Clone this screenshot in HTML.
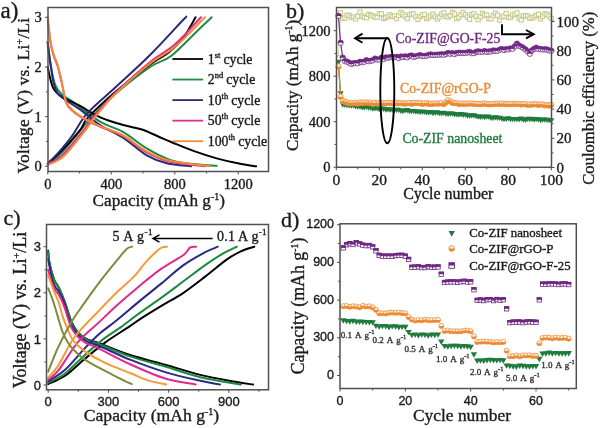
<!DOCTYPE html>
<html><head><meta charset="utf-8"><style>
html,body{margin:0;padding:0;background:#fff;width:600px;height:428px;overflow:hidden}
svg{display:block;will-change:transform}
</style></head><body>
<svg width="600" height="428" viewBox="0 0 600 428">
<rect width="600" height="428" fill="#fff"/>
<path d="M47.80,164.31 C50.18,162.33 56.80,157.86 62.09,152.39 C67.38,146.93 74.52,137.49 79.55,131.53 C84.58,125.57 86.35,122.84 92.25,116.63 C98.15,110.42 105.32,102.56 114.95,94.28 C124.58,86.00 140.70,73.33 150.03,66.96 C159.37,60.59 162.66,62.49 170.99,56.03 C179.32,49.58 193.27,34.67 200.04,28.22 C206.81,21.76 209.70,19.11 211.63,17.29" fill="none" stroke="#1f8a46" stroke-width="2.0" stroke-linejoin="round" stroke-linecap="round"/>
<path d="M47.80,43.12 C48.28,46.68 49.47,57.61 50.66,64.48 C51.85,71.35 53.04,79.29 54.94,84.34 C56.85,89.39 59.31,92.04 62.09,94.78 C64.87,97.51 65.29,96.27 71.61,100.74 C77.94,105.21 91.40,116.38 100.03,121.60 C108.65,126.81 115.59,127.56 123.36,132.03 C131.14,136.50 138.92,143.78 146.70,148.42 C154.48,153.05 162.71,157.28 170.04,159.84 C177.37,162.41 182.90,162.82 190.68,163.82 C198.45,164.81 212.37,165.47 216.71,165.80" fill="none" stroke="#1f8a46" stroke-width="2.0" stroke-linejoin="round" stroke-linecap="round"/>
<path d="M47.80,163.82 C50.00,161.75 55.61,157.03 60.98,151.40 C66.35,145.77 75.53,135.67 80.03,130.04 C84.52,124.41 82.14,123.91 87.96,117.62 C93.78,111.33 104.61,101.15 114.95,92.29 C125.30,83.43 141.07,71.10 150.03,64.48 C159.00,57.85 163.32,56.86 168.77,52.56 C174.22,48.25 178.27,44.53 182.74,38.65 C187.21,32.77 193.45,20.85 195.60,17.29" fill="none" stroke="#000000" stroke-width="2.0" stroke-linejoin="round" stroke-linecap="round"/>
<path d="M47.80,66.96 C48.04,68.20 48.30,70.85 49.23,74.41 C50.15,77.97 51.27,84.59 53.36,88.32 C55.45,92.04 57.56,93.95 61.77,96.76 C65.98,99.58 72.06,101.73 78.60,105.21 C85.13,108.68 93.52,114.31 100.98,117.62 C108.44,120.93 116.54,123.09 123.36,125.07 C130.19,127.06 136.12,127.64 141.94,129.54 C147.76,131.45 153.24,134.35 158.29,136.50 C163.34,138.65 166.41,140.06 172.26,142.46 C178.11,144.86 185.97,148.25 193.37,150.90 C200.78,153.55 208.93,156.20 216.71,158.35 C224.49,160.51 233.48,162.49 240.05,163.82 C246.61,165.14 253.41,165.89 256.08,166.30" fill="none" stroke="#000000" stroke-width="2.0" stroke-linejoin="round" stroke-linecap="round"/>
<path d="M47.80,163.32 C49.39,161.75 53.36,158.35 57.32,153.88 C61.29,149.41 66.66,143.20 71.61,136.50 C76.56,129.79 79.79,121.76 87.01,113.65 C94.23,105.54 104.45,97.59 114.95,87.82 C125.46,78.05 138.74,66.30 150.03,55.04 C161.33,43.78 176.78,26.56 182.74,20.27 C188.69,13.98 185.25,17.79 185.75,17.29" fill="none" stroke="#2a2a72" stroke-width="2.0" stroke-linejoin="round" stroke-linecap="round"/>
<path d="M47.80,44.61 C48.20,47.51 49.26,55.78 50.18,61.99 C51.11,68.20 52.17,76.73 53.36,81.86 C54.55,86.99 55.61,89.97 57.32,92.79 C59.04,95.60 59.97,96.02 63.67,98.75 C67.38,101.48 73.49,104.79 79.55,109.18 C85.61,113.57 92.73,120.27 100.03,125.07 C107.33,129.88 115.59,132.94 123.36,137.99 C131.14,143.04 139.45,151.15 146.70,155.37 C153.95,159.59 159.48,161.50 166.86,163.32 C174.24,165.14 186.97,165.80 190.99,166.30" fill="none" stroke="#2a2a72" stroke-width="2.0" stroke-linejoin="round" stroke-linecap="round"/>
<path d="M47.80,164.31 C50.18,162.82 56.27,160.84 62.09,155.37 C67.91,149.91 77.43,137.99 82.72,131.53 C88.02,125.07 88.47,123.00 93.84,116.63 C99.21,110.26 105.59,102.39 114.95,93.29 C124.32,84.18 140.06,70.11 150.03,61.99 C160.01,53.88 166.31,52.06 174.80,44.61 C183.29,37.16 196.63,21.84 200.99,17.29" fill="none" stroke="#dc3282" stroke-width="2.0" stroke-linejoin="round" stroke-linecap="round"/>
<path d="M47.80,19.77 C48.28,23.75 49.60,37.41 50.66,43.62 C51.72,49.82 52.99,53.30 54.15,57.03 C55.31,60.75 56.37,61.66 57.64,65.97 C58.91,70.27 60.37,76.73 61.77,82.85 C63.17,88.98 64.18,98.00 66.06,102.72 C67.93,107.44 69.55,108.19 73.04,111.17 C76.53,114.15 82.51,118.04 87.01,120.60 C91.51,123.17 93.97,123.91 100.03,126.56 C106.09,129.21 115.59,132.19 123.36,136.50 C131.14,140.80 138.92,148.17 146.70,152.39 C154.48,156.61 160.33,159.51 170.04,161.83 C179.75,164.15 199.14,165.55 204.96,166.30" fill="none" stroke="#dc3282" stroke-width="2.0" stroke-linejoin="round" stroke-linecap="round"/>
<path d="M47.80,164.81 C50.45,163.40 57.59,161.91 63.67,156.37 C69.76,150.82 79.02,138.15 84.31,131.53 C89.60,124.91 90.32,122.84 95.42,116.63 C100.53,110.42 105.85,103.14 114.95,94.28 C124.05,85.42 140.06,71.35 150.03,63.48 C160.01,55.62 165.65,54.79 174.80,47.09 C183.95,39.39 199.94,22.26 204.96,17.29" fill="none" stroke="#f28a38" stroke-width="2.0" stroke-linejoin="round" stroke-linecap="round"/>
<path d="M47.80,17.29 C48.28,21.43 49.60,35.67 50.66,42.12 C51.72,48.58 52.99,52.22 54.15,56.03 C55.31,59.84 56.37,60.67 57.64,64.97 C58.91,69.28 60.37,75.74 61.77,81.86 C63.17,87.99 64.18,96.93 66.06,101.73 C67.93,106.53 69.55,107.61 73.04,110.67 C76.53,113.73 82.51,117.54 87.01,120.11 C91.51,122.67 93.97,123.50 100.03,126.07 C106.09,128.63 115.59,131.28 123.36,135.50 C131.14,139.73 138.92,147.18 146.70,151.40 C154.48,155.62 159.53,158.35 170.04,160.84 C180.54,163.32 203.11,165.39 209.73,166.30" fill="none" stroke="#f28a38" stroke-width="2.0" stroke-linejoin="round" stroke-linecap="round"/>
<rect x="48" y="7.5" width="220.5" height="164.0" fill="none" stroke="#505050" stroke-width="1.5"/>
<line x1="45.00" y1="166.30" x2="48.00" y2="166.30" stroke="#505050" stroke-width="1.0" />
<line x1="46.00" y1="141.47" x2="48.00" y2="141.47" stroke="#505050" stroke-width="1.0" />
<line x1="45.00" y1="116.63" x2="48.00" y2="116.63" stroke="#505050" stroke-width="1.0" />
<line x1="46.00" y1="91.80" x2="48.00" y2="91.80" stroke="#505050" stroke-width="1.0" />
<line x1="45.00" y1="66.96" x2="48.00" y2="66.96" stroke="#505050" stroke-width="1.0" />
<line x1="46.00" y1="42.12" x2="48.00" y2="42.12" stroke="#505050" stroke-width="1.0" />
<line x1="45.00" y1="17.29" x2="48.00" y2="17.29" stroke="#505050" stroke-width="1.0" />
<line x1="47.80" y1="171.50" x2="47.80" y2="174.50" stroke="#505050" stroke-width="1.0" />
<line x1="79.55" y1="171.50" x2="79.55" y2="173.50" stroke="#505050" stroke-width="1.0" />
<line x1="111.30" y1="171.50" x2="111.30" y2="174.50" stroke="#505050" stroke-width="1.0" />
<line x1="143.05" y1="171.50" x2="143.05" y2="173.50" stroke="#505050" stroke-width="1.0" />
<line x1="174.80" y1="171.50" x2="174.80" y2="174.50" stroke="#505050" stroke-width="1.0" />
<line x1="206.55" y1="171.50" x2="206.55" y2="173.50" stroke="#505050" stroke-width="1.0" />
<line x1="238.30" y1="171.50" x2="238.30" y2="174.50" stroke="#505050" stroke-width="1.0" />
<text x="41.80" y="171.30" font-family='"Liberation Serif", serif' font-size="14.5" text-anchor="end" fill="#1a1a1a" stroke="#1a1a1a" stroke-width="0.35" >0</text>
<text x="41.80" y="121.63" font-family='"Liberation Serif", serif' font-size="14.5" text-anchor="end" fill="#1a1a1a" stroke="#1a1a1a" stroke-width="0.35" >1</text>
<text x="41.80" y="71.96" font-family='"Liberation Serif", serif' font-size="14.5" text-anchor="end" fill="#1a1a1a" stroke="#1a1a1a" stroke-width="0.35" >2</text>
<text x="41.80" y="22.29" font-family='"Liberation Serif", serif' font-size="14.5" text-anchor="end" fill="#1a1a1a" stroke="#1a1a1a" stroke-width="0.35" >3</text>
<text x="47.80" y="189.00" font-family='"Liberation Serif", serif' font-size="14.5" text-anchor="middle" fill="#1a1a1a" stroke="#1a1a1a" stroke-width="0.35" >0</text>
<text x="111.30" y="189.00" font-family='"Liberation Serif", serif' font-size="14.5" text-anchor="middle" fill="#1a1a1a" stroke="#1a1a1a" stroke-width="0.35" >400</text>
<text x="174.80" y="189.00" font-family='"Liberation Serif", serif' font-size="14.5" text-anchor="middle" fill="#1a1a1a" stroke="#1a1a1a" stroke-width="0.35" >800</text>
<text x="238.30" y="189.00" font-family='"Liberation Serif", serif' font-size="14.5" text-anchor="middle" fill="#1a1a1a" stroke="#1a1a1a" stroke-width="0.35" >1200</text>
<text x="0.50" y="17.50" font-family='"Liberation Serif", serif' font-size="23" text-anchor="start" fill="#1a1a1a" stroke="#1a1a1a" stroke-width="0.35" >a)</text>
<text x="158.80" y="206.00" font-family='"Liberation Serif", serif' font-size="17.2" text-anchor="middle" fill="#1a1a1a" stroke="#1a1a1a" stroke-width="0.35" >Capacity (mAh g<tspan dy="-6" font-size="10">-1</tspan><tspan dy="6">)</tspan></text>
<text transform="translate(29,95.5) rotate(-90)" font-family='"Liberation Serif", serif' font-size="17.3" letter-spacing="0.25" text-anchor="middle" fill="#1a1a1a" stroke="#1a1a1a" stroke-width="0.35">Voltage (V) vs. Li<tspan dy="-6" font-size="10">+</tspan><tspan dy="6">/Li</tspan></text>
<line x1="172.40" y1="59.00" x2="203.00" y2="59.00" stroke="#000000" stroke-width="1.8" />
<text x="207.80" y="63.60" font-family='"Liberation Serif", serif' font-size="13.8" text-anchor="start" fill="#1a1a1a" stroke="#1a1a1a" stroke-width="0.35" >1<tspan dy="-6" font-size="8.5">st</tspan><tspan dy="6" dx="3">cycle</tspan></text>
<line x1="172.40" y1="79.55" x2="203.00" y2="79.55" stroke="#1f8a46" stroke-width="1.8" />
<text x="207.80" y="84.15" font-family='"Liberation Serif", serif' font-size="13.8" text-anchor="start" fill="#1a1a1a" stroke="#1a1a1a" stroke-width="0.35" >2<tspan dy="-6" font-size="8.5">nd</tspan><tspan dy="6" dx="3">cycle</tspan></text>
<line x1="172.40" y1="100.10" x2="203.00" y2="100.10" stroke="#2a2a72" stroke-width="1.8" />
<text x="207.80" y="104.70" font-family='"Liberation Serif", serif' font-size="13.8" text-anchor="start" fill="#1a1a1a" stroke="#1a1a1a" stroke-width="0.35" >10<tspan dy="-6" font-size="8.5">th</tspan><tspan dy="6" dx="3">cycle</tspan></text>
<line x1="172.40" y1="120.65" x2="203.00" y2="120.65" stroke="#dc3282" stroke-width="1.8" />
<text x="207.80" y="125.25" font-family='"Liberation Serif", serif' font-size="13.8" text-anchor="start" fill="#1a1a1a" stroke="#1a1a1a" stroke-width="0.35" >50<tspan dy="-6" font-size="8.5">th</tspan><tspan dy="6" dx="3">cycle</tspan></text>
<line x1="172.40" y1="141.20" x2="203.00" y2="141.20" stroke="#f28a38" stroke-width="1.8" />
<text x="207.80" y="145.80" font-family='"Liberation Serif", serif' font-size="13.8" text-anchor="start" fill="#1a1a1a" stroke="#1a1a1a" stroke-width="0.35" >100<tspan dy="-6" font-size="8.5">th</tspan><tspan dy="6" dx="3">cycle</tspan></text>
<polyline points="338.45,58.00 340.60,12.74 342.75,18.31 344.90,17.94 347.05,15.30 349.20,15.43 351.35,17.20 353.50,17.00 355.65,18.87 357.80,16.19 359.95,12.20 362.10,16.10 364.25,17.24 366.40,17.74 368.55,14.34 370.70,15.30 372.85,16.03 375.00,17.26 377.15,17.14 379.30,13.62 381.45,13.71 383.60,18.52 385.75,17.67 387.90,16.43 390.05,14.88 392.20,16.28 394.35,16.17 396.50,18.59 398.65,15.48 400.80,12.67 402.95,14.29 405.10,16.38 407.25,18.67 409.40,14.69 411.55,14.11 413.70,13.97 415.85,16.85 418.00,19.43 420.15,16.54 422.30,14.93 424.45,14.36 426.60,18.64 428.75,17.21 430.90,15.53 433.05,14.05 435.20,16.90 437.35,19.07 439.50,16.92 441.65,14.17 443.80,12.90 445.95,16.36 448.10,17.07 450.25,15.49 452.40,12.46 454.55,14.04 456.70,18.63 458.85,17.23 461.00,14.61 463.15,12.57 465.30,14.80 467.45,17.10 469.60,19.32 471.75,14.58 473.90,13.65 476.05,16.26 478.20,19.71 480.35,16.78 482.50,13.54 484.65,15.38 486.80,14.94 488.95,18.73 491.10,18.88 493.25,15.55 495.40,13.13 497.55,15.20 499.70,20.15 501.85,16.82 504.00,16.05 506.15,13.55 508.30,17.59 510.45,17.24 512.60,15.06 514.75,14.16 516.90,12.90 519.05,18.12 521.20,19.98 523.35,15.89 525.50,15.63 527.65,16.11 529.80,18.18 531.95,17.92 534.10,16.94 536.25,15.51 538.40,14.22 540.55,18.83 542.70,16.41 544.85,13.87 547.00,14.37 549.15,16.14 551.30,18.35" fill="none" stroke="#c6c68c" stroke-width="0.8"/>
<rect x="336.35" y="55.90" width="4.2" height="4.2" fill="#fbfbee" stroke="#c6c68c" stroke-width="1"/>
<rect x="338.50" y="10.64" width="4.2" height="4.2" fill="#fbfbee" stroke="#c6c68c" stroke-width="1"/>
<rect x="340.65" y="16.21" width="4.2" height="4.2" fill="#fbfbee" stroke="#c6c68c" stroke-width="1"/>
<rect x="342.80" y="15.84" width="4.2" height="4.2" fill="#fbfbee" stroke="#c6c68c" stroke-width="1"/>
<rect x="344.95" y="13.20" width="4.2" height="4.2" fill="#fbfbee" stroke="#c6c68c" stroke-width="1"/>
<rect x="347.10" y="13.33" width="4.2" height="4.2" fill="#fbfbee" stroke="#c6c68c" stroke-width="1"/>
<rect x="349.25" y="15.10" width="4.2" height="4.2" fill="#fbfbee" stroke="#c6c68c" stroke-width="1"/>
<rect x="351.40" y="14.90" width="4.2" height="4.2" fill="#fbfbee" stroke="#c6c68c" stroke-width="1"/>
<rect x="353.55" y="16.77" width="4.2" height="4.2" fill="#fbfbee" stroke="#c6c68c" stroke-width="1"/>
<rect x="355.70" y="14.09" width="4.2" height="4.2" fill="#fbfbee" stroke="#c6c68c" stroke-width="1"/>
<rect x="357.85" y="10.10" width="4.2" height="4.2" fill="#fbfbee" stroke="#c6c68c" stroke-width="1"/>
<rect x="360.00" y="14.00" width="4.2" height="4.2" fill="#fbfbee" stroke="#c6c68c" stroke-width="1"/>
<rect x="362.15" y="15.14" width="4.2" height="4.2" fill="#fbfbee" stroke="#c6c68c" stroke-width="1"/>
<rect x="364.30" y="15.64" width="4.2" height="4.2" fill="#fbfbee" stroke="#c6c68c" stroke-width="1"/>
<rect x="366.45" y="12.24" width="4.2" height="4.2" fill="#fbfbee" stroke="#c6c68c" stroke-width="1"/>
<rect x="368.60" y="13.20" width="4.2" height="4.2" fill="#fbfbee" stroke="#c6c68c" stroke-width="1"/>
<rect x="370.75" y="13.93" width="4.2" height="4.2" fill="#fbfbee" stroke="#c6c68c" stroke-width="1"/>
<rect x="372.90" y="15.16" width="4.2" height="4.2" fill="#fbfbee" stroke="#c6c68c" stroke-width="1"/>
<rect x="375.05" y="15.04" width="4.2" height="4.2" fill="#fbfbee" stroke="#c6c68c" stroke-width="1"/>
<rect x="377.20" y="11.52" width="4.2" height="4.2" fill="#fbfbee" stroke="#c6c68c" stroke-width="1"/>
<rect x="379.35" y="11.61" width="4.2" height="4.2" fill="#fbfbee" stroke="#c6c68c" stroke-width="1"/>
<rect x="381.50" y="16.42" width="4.2" height="4.2" fill="#fbfbee" stroke="#c6c68c" stroke-width="1"/>
<rect x="383.65" y="15.57" width="4.2" height="4.2" fill="#fbfbee" stroke="#c6c68c" stroke-width="1"/>
<rect x="385.80" y="14.33" width="4.2" height="4.2" fill="#fbfbee" stroke="#c6c68c" stroke-width="1"/>
<rect x="387.95" y="12.78" width="4.2" height="4.2" fill="#fbfbee" stroke="#c6c68c" stroke-width="1"/>
<rect x="390.10" y="14.18" width="4.2" height="4.2" fill="#fbfbee" stroke="#c6c68c" stroke-width="1"/>
<rect x="392.25" y="14.07" width="4.2" height="4.2" fill="#fbfbee" stroke="#c6c68c" stroke-width="1"/>
<rect x="394.40" y="16.49" width="4.2" height="4.2" fill="#fbfbee" stroke="#c6c68c" stroke-width="1"/>
<rect x="396.55" y="13.38" width="4.2" height="4.2" fill="#fbfbee" stroke="#c6c68c" stroke-width="1"/>
<rect x="398.70" y="10.57" width="4.2" height="4.2" fill="#fbfbee" stroke="#c6c68c" stroke-width="1"/>
<rect x="400.85" y="12.19" width="4.2" height="4.2" fill="#fbfbee" stroke="#c6c68c" stroke-width="1"/>
<rect x="403.00" y="14.28" width="4.2" height="4.2" fill="#fbfbee" stroke="#c6c68c" stroke-width="1"/>
<rect x="405.15" y="16.57" width="4.2" height="4.2" fill="#fbfbee" stroke="#c6c68c" stroke-width="1"/>
<rect x="407.30" y="12.59" width="4.2" height="4.2" fill="#fbfbee" stroke="#c6c68c" stroke-width="1"/>
<rect x="409.45" y="12.01" width="4.2" height="4.2" fill="#fbfbee" stroke="#c6c68c" stroke-width="1"/>
<rect x="411.60" y="11.87" width="4.2" height="4.2" fill="#fbfbee" stroke="#c6c68c" stroke-width="1"/>
<rect x="413.75" y="14.75" width="4.2" height="4.2" fill="#fbfbee" stroke="#c6c68c" stroke-width="1"/>
<rect x="415.90" y="17.33" width="4.2" height="4.2" fill="#fbfbee" stroke="#c6c68c" stroke-width="1"/>
<rect x="418.05" y="14.44" width="4.2" height="4.2" fill="#fbfbee" stroke="#c6c68c" stroke-width="1"/>
<rect x="420.20" y="12.83" width="4.2" height="4.2" fill="#fbfbee" stroke="#c6c68c" stroke-width="1"/>
<rect x="422.35" y="12.26" width="4.2" height="4.2" fill="#fbfbee" stroke="#c6c68c" stroke-width="1"/>
<rect x="424.50" y="16.54" width="4.2" height="4.2" fill="#fbfbee" stroke="#c6c68c" stroke-width="1"/>
<rect x="426.65" y="15.11" width="4.2" height="4.2" fill="#fbfbee" stroke="#c6c68c" stroke-width="1"/>
<rect x="428.80" y="13.43" width="4.2" height="4.2" fill="#fbfbee" stroke="#c6c68c" stroke-width="1"/>
<rect x="430.95" y="11.95" width="4.2" height="4.2" fill="#fbfbee" stroke="#c6c68c" stroke-width="1"/>
<rect x="433.10" y="14.80" width="4.2" height="4.2" fill="#fbfbee" stroke="#c6c68c" stroke-width="1"/>
<rect x="435.25" y="16.97" width="4.2" height="4.2" fill="#fbfbee" stroke="#c6c68c" stroke-width="1"/>
<rect x="437.40" y="14.82" width="4.2" height="4.2" fill="#fbfbee" stroke="#c6c68c" stroke-width="1"/>
<rect x="439.55" y="12.07" width="4.2" height="4.2" fill="#fbfbee" stroke="#c6c68c" stroke-width="1"/>
<rect x="441.70" y="10.80" width="4.2" height="4.2" fill="#fbfbee" stroke="#c6c68c" stroke-width="1"/>
<rect x="443.85" y="14.26" width="4.2" height="4.2" fill="#fbfbee" stroke="#c6c68c" stroke-width="1"/>
<rect x="446.00" y="14.97" width="4.2" height="4.2" fill="#fbfbee" stroke="#c6c68c" stroke-width="1"/>
<rect x="448.15" y="13.39" width="4.2" height="4.2" fill="#fbfbee" stroke="#c6c68c" stroke-width="1"/>
<rect x="450.30" y="10.36" width="4.2" height="4.2" fill="#fbfbee" stroke="#c6c68c" stroke-width="1"/>
<rect x="452.45" y="11.94" width="4.2" height="4.2" fill="#fbfbee" stroke="#c6c68c" stroke-width="1"/>
<rect x="454.60" y="16.53" width="4.2" height="4.2" fill="#fbfbee" stroke="#c6c68c" stroke-width="1"/>
<rect x="456.75" y="15.13" width="4.2" height="4.2" fill="#fbfbee" stroke="#c6c68c" stroke-width="1"/>
<rect x="458.90" y="12.51" width="4.2" height="4.2" fill="#fbfbee" stroke="#c6c68c" stroke-width="1"/>
<rect x="461.05" y="10.47" width="4.2" height="4.2" fill="#fbfbee" stroke="#c6c68c" stroke-width="1"/>
<rect x="463.20" y="12.70" width="4.2" height="4.2" fill="#fbfbee" stroke="#c6c68c" stroke-width="1"/>
<rect x="465.35" y="15.00" width="4.2" height="4.2" fill="#fbfbee" stroke="#c6c68c" stroke-width="1"/>
<rect x="467.50" y="17.22" width="4.2" height="4.2" fill="#fbfbee" stroke="#c6c68c" stroke-width="1"/>
<rect x="469.65" y="12.48" width="4.2" height="4.2" fill="#fbfbee" stroke="#c6c68c" stroke-width="1"/>
<rect x="471.80" y="11.55" width="4.2" height="4.2" fill="#fbfbee" stroke="#c6c68c" stroke-width="1"/>
<rect x="473.95" y="14.16" width="4.2" height="4.2" fill="#fbfbee" stroke="#c6c68c" stroke-width="1"/>
<rect x="476.10" y="17.61" width="4.2" height="4.2" fill="#fbfbee" stroke="#c6c68c" stroke-width="1"/>
<rect x="478.25" y="14.68" width="4.2" height="4.2" fill="#fbfbee" stroke="#c6c68c" stroke-width="1"/>
<rect x="480.40" y="11.44" width="4.2" height="4.2" fill="#fbfbee" stroke="#c6c68c" stroke-width="1"/>
<rect x="482.55" y="13.28" width="4.2" height="4.2" fill="#fbfbee" stroke="#c6c68c" stroke-width="1"/>
<rect x="484.70" y="12.84" width="4.2" height="4.2" fill="#fbfbee" stroke="#c6c68c" stroke-width="1"/>
<rect x="486.85" y="16.63" width="4.2" height="4.2" fill="#fbfbee" stroke="#c6c68c" stroke-width="1"/>
<rect x="489.00" y="16.78" width="4.2" height="4.2" fill="#fbfbee" stroke="#c6c68c" stroke-width="1"/>
<rect x="491.15" y="13.45" width="4.2" height="4.2" fill="#fbfbee" stroke="#c6c68c" stroke-width="1"/>
<rect x="493.30" y="11.03" width="4.2" height="4.2" fill="#fbfbee" stroke="#c6c68c" stroke-width="1"/>
<rect x="495.45" y="13.10" width="4.2" height="4.2" fill="#fbfbee" stroke="#c6c68c" stroke-width="1"/>
<rect x="497.60" y="18.05" width="4.2" height="4.2" fill="#fbfbee" stroke="#c6c68c" stroke-width="1"/>
<rect x="499.75" y="14.72" width="4.2" height="4.2" fill="#fbfbee" stroke="#c6c68c" stroke-width="1"/>
<rect x="501.90" y="13.95" width="4.2" height="4.2" fill="#fbfbee" stroke="#c6c68c" stroke-width="1"/>
<rect x="504.05" y="11.45" width="4.2" height="4.2" fill="#fbfbee" stroke="#c6c68c" stroke-width="1"/>
<rect x="506.20" y="15.49" width="4.2" height="4.2" fill="#fbfbee" stroke="#c6c68c" stroke-width="1"/>
<rect x="508.35" y="15.14" width="4.2" height="4.2" fill="#fbfbee" stroke="#c6c68c" stroke-width="1"/>
<rect x="510.50" y="12.96" width="4.2" height="4.2" fill="#fbfbee" stroke="#c6c68c" stroke-width="1"/>
<rect x="512.65" y="12.06" width="4.2" height="4.2" fill="#fbfbee" stroke="#c6c68c" stroke-width="1"/>
<rect x="514.80" y="10.80" width="4.2" height="4.2" fill="#fbfbee" stroke="#c6c68c" stroke-width="1"/>
<rect x="516.95" y="16.02" width="4.2" height="4.2" fill="#fbfbee" stroke="#c6c68c" stroke-width="1"/>
<rect x="519.10" y="17.88" width="4.2" height="4.2" fill="#fbfbee" stroke="#c6c68c" stroke-width="1"/>
<rect x="521.25" y="13.79" width="4.2" height="4.2" fill="#fbfbee" stroke="#c6c68c" stroke-width="1"/>
<rect x="523.40" y="13.53" width="4.2" height="4.2" fill="#fbfbee" stroke="#c6c68c" stroke-width="1"/>
<rect x="525.55" y="14.01" width="4.2" height="4.2" fill="#fbfbee" stroke="#c6c68c" stroke-width="1"/>
<rect x="527.70" y="16.08" width="4.2" height="4.2" fill="#fbfbee" stroke="#c6c68c" stroke-width="1"/>
<rect x="529.85" y="15.82" width="4.2" height="4.2" fill="#fbfbee" stroke="#c6c68c" stroke-width="1"/>
<rect x="532.00" y="14.84" width="4.2" height="4.2" fill="#fbfbee" stroke="#c6c68c" stroke-width="1"/>
<rect x="534.15" y="13.41" width="4.2" height="4.2" fill="#fbfbee" stroke="#c6c68c" stroke-width="1"/>
<rect x="536.30" y="12.12" width="4.2" height="4.2" fill="#fbfbee" stroke="#c6c68c" stroke-width="1"/>
<rect x="538.45" y="16.73" width="4.2" height="4.2" fill="#fbfbee" stroke="#c6c68c" stroke-width="1"/>
<rect x="540.60" y="14.31" width="4.2" height="4.2" fill="#fbfbee" stroke="#c6c68c" stroke-width="1"/>
<rect x="542.75" y="11.77" width="4.2" height="4.2" fill="#fbfbee" stroke="#c6c68c" stroke-width="1"/>
<rect x="544.90" y="12.27" width="4.2" height="4.2" fill="#fbfbee" stroke="#c6c68c" stroke-width="1"/>
<rect x="547.05" y="14.04" width="4.2" height="4.2" fill="#fbfbee" stroke="#c6c68c" stroke-width="1"/>
<rect x="549.20" y="16.25" width="4.2" height="4.2" fill="#fbfbee" stroke="#c6c68c" stroke-width="1"/>
<polyline points="338.45,62.55 340.60,93.72 342.75,104.98 344.90,105.09 347.05,105.42 349.20,105.74 351.35,105.95 353.50,105.86 355.65,106.63 357.80,106.99 359.95,106.87 362.10,107.62 364.25,107.75 366.40,107.19 368.55,107.91 370.70,108.09 372.85,108.90 375.00,108.65 377.15,108.66 379.30,109.51 381.45,109.03 383.60,109.22 385.75,110.07 387.90,109.63 390.05,110.02 392.20,109.92 394.35,110.44 396.50,110.17 398.65,110.28 400.80,111.24 402.95,111.34 405.10,110.78 407.25,110.59 409.40,111.55 411.55,111.46 413.70,111.44 415.85,111.89 418.00,111.99 420.15,112.19 422.30,112.27 424.45,112.15 426.60,112.63 428.75,112.68 430.90,112.38 433.05,113.37 435.20,112.89 437.35,112.84 439.50,113.47 441.65,113.71 443.80,113.19 445.95,113.98 448.10,114.18 450.25,114.04 452.40,113.94 454.55,114.82 456.70,114.77 458.85,114.95 461.00,114.59 463.15,115.24 465.30,114.96 467.45,115.94 469.60,115.95 471.75,115.80 473.90,115.73 476.05,116.42 478.20,116.88 480.35,117.20 482.50,116.93 484.65,117.52 486.80,117.02 488.95,117.18 491.10,118.13 493.25,118.22 495.40,117.82 497.55,118.21 499.70,118.22 501.85,118.95 504.00,119.39 506.15,119.28 508.30,118.78 510.45,119.45 512.60,119.43 514.75,119.43 516.90,119.50 519.05,119.58 521.20,119.07 523.35,120.01 525.50,120.26 527.65,119.26 529.80,119.41 531.95,119.36 534.10,120.06 536.25,119.54 538.40,119.64 540.55,120.52 542.70,119.99 544.85,119.96 547.00,120.23 549.15,120.47 551.30,120.80" fill="none" stroke="#1f7a3c" stroke-width="1.2"/>
<path d="M335.45,60.05 L341.45,60.05 L338.45,65.35Z" fill="#1f7a3c"/>
<path d="M337.60,91.22 L343.60,91.22 L340.60,96.52Z" fill="#1f7a3c"/>
<path d="M339.75,102.48 L345.75,102.48 L342.75,107.78Z" fill="#1f7a3c"/>
<path d="M341.90,102.59 L347.90,102.59 L344.90,107.89Z" fill="#1f7a3c"/>
<path d="M344.05,102.92 L350.05,102.92 L347.05,108.22Z" fill="#1f7a3c"/>
<path d="M346.20,103.24 L352.20,103.24 L349.20,108.54Z" fill="#1f7a3c"/>
<path d="M348.35,103.45 L354.35,103.45 L351.35,108.75Z" fill="#1f7a3c"/>
<path d="M350.50,103.36 L356.50,103.36 L353.50,108.66Z" fill="#1f7a3c"/>
<path d="M352.65,104.13 L358.65,104.13 L355.65,109.43Z" fill="#1f7a3c"/>
<path d="M354.80,104.49 L360.80,104.49 L357.80,109.79Z" fill="#1f7a3c"/>
<path d="M356.95,104.37 L362.95,104.37 L359.95,109.67Z" fill="#1f7a3c"/>
<path d="M359.10,105.12 L365.10,105.12 L362.10,110.42Z" fill="#1f7a3c"/>
<path d="M361.25,105.25 L367.25,105.25 L364.25,110.55Z" fill="#1f7a3c"/>
<path d="M363.40,104.69 L369.40,104.69 L366.40,109.99Z" fill="#1f7a3c"/>
<path d="M365.55,105.41 L371.55,105.41 L368.55,110.71Z" fill="#1f7a3c"/>
<path d="M367.70,105.59 L373.70,105.59 L370.70,110.89Z" fill="#1f7a3c"/>
<path d="M369.85,106.40 L375.85,106.40 L372.85,111.70Z" fill="#1f7a3c"/>
<path d="M372.00,106.15 L378.00,106.15 L375.00,111.45Z" fill="#1f7a3c"/>
<path d="M374.15,106.16 L380.15,106.16 L377.15,111.46Z" fill="#1f7a3c"/>
<path d="M376.30,107.01 L382.30,107.01 L379.30,112.31Z" fill="#1f7a3c"/>
<path d="M378.45,106.53 L384.45,106.53 L381.45,111.83Z" fill="#1f7a3c"/>
<path d="M380.60,106.72 L386.60,106.72 L383.60,112.02Z" fill="#1f7a3c"/>
<path d="M382.75,107.57 L388.75,107.57 L385.75,112.87Z" fill="#1f7a3c"/>
<path d="M384.90,107.13 L390.90,107.13 L387.90,112.43Z" fill="#1f7a3c"/>
<path d="M387.05,107.52 L393.05,107.52 L390.05,112.82Z" fill="#1f7a3c"/>
<path d="M389.20,107.42 L395.20,107.42 L392.20,112.72Z" fill="#1f7a3c"/>
<path d="M391.35,107.94 L397.35,107.94 L394.35,113.24Z" fill="#1f7a3c"/>
<path d="M393.50,107.67 L399.50,107.67 L396.50,112.97Z" fill="#1f7a3c"/>
<path d="M395.65,107.78 L401.65,107.78 L398.65,113.08Z" fill="#1f7a3c"/>
<path d="M397.80,108.74 L403.80,108.74 L400.80,114.04Z" fill="#1f7a3c"/>
<path d="M399.95,108.84 L405.95,108.84 L402.95,114.14Z" fill="#1f7a3c"/>
<path d="M402.10,108.28 L408.10,108.28 L405.10,113.58Z" fill="#1f7a3c"/>
<path d="M404.25,108.09 L410.25,108.09 L407.25,113.39Z" fill="#1f7a3c"/>
<path d="M406.40,109.05 L412.40,109.05 L409.40,114.35Z" fill="#1f7a3c"/>
<path d="M408.55,108.96 L414.55,108.96 L411.55,114.26Z" fill="#1f7a3c"/>
<path d="M410.70,108.94 L416.70,108.94 L413.70,114.24Z" fill="#1f7a3c"/>
<path d="M412.85,109.39 L418.85,109.39 L415.85,114.69Z" fill="#1f7a3c"/>
<path d="M415.00,109.49 L421.00,109.49 L418.00,114.79Z" fill="#1f7a3c"/>
<path d="M417.15,109.69 L423.15,109.69 L420.15,114.99Z" fill="#1f7a3c"/>
<path d="M419.30,109.77 L425.30,109.77 L422.30,115.07Z" fill="#1f7a3c"/>
<path d="M421.45,109.65 L427.45,109.65 L424.45,114.95Z" fill="#1f7a3c"/>
<path d="M423.60,110.13 L429.60,110.13 L426.60,115.43Z" fill="#1f7a3c"/>
<path d="M425.75,110.18 L431.75,110.18 L428.75,115.48Z" fill="#1f7a3c"/>
<path d="M427.90,109.88 L433.90,109.88 L430.90,115.18Z" fill="#1f7a3c"/>
<path d="M430.05,110.87 L436.05,110.87 L433.05,116.17Z" fill="#1f7a3c"/>
<path d="M432.20,110.39 L438.20,110.39 L435.20,115.69Z" fill="#1f7a3c"/>
<path d="M434.35,110.34 L440.35,110.34 L437.35,115.64Z" fill="#1f7a3c"/>
<path d="M436.50,110.97 L442.50,110.97 L439.50,116.27Z" fill="#1f7a3c"/>
<path d="M438.65,111.21 L444.65,111.21 L441.65,116.51Z" fill="#1f7a3c"/>
<path d="M440.80,110.69 L446.80,110.69 L443.80,115.99Z" fill="#1f7a3c"/>
<path d="M442.95,111.48 L448.95,111.48 L445.95,116.78Z" fill="#1f7a3c"/>
<path d="M445.10,111.68 L451.10,111.68 L448.10,116.98Z" fill="#1f7a3c"/>
<path d="M447.25,111.54 L453.25,111.54 L450.25,116.84Z" fill="#1f7a3c"/>
<path d="M449.40,111.44 L455.40,111.44 L452.40,116.74Z" fill="#1f7a3c"/>
<path d="M451.55,112.32 L457.55,112.32 L454.55,117.62Z" fill="#1f7a3c"/>
<path d="M453.70,112.27 L459.70,112.27 L456.70,117.57Z" fill="#1f7a3c"/>
<path d="M455.85,112.45 L461.85,112.45 L458.85,117.75Z" fill="#1f7a3c"/>
<path d="M458.00,112.09 L464.00,112.09 L461.00,117.39Z" fill="#1f7a3c"/>
<path d="M460.15,112.74 L466.15,112.74 L463.15,118.04Z" fill="#1f7a3c"/>
<path d="M462.30,112.46 L468.30,112.46 L465.30,117.76Z" fill="#1f7a3c"/>
<path d="M464.45,113.44 L470.45,113.44 L467.45,118.74Z" fill="#1f7a3c"/>
<path d="M466.60,113.45 L472.60,113.45 L469.60,118.75Z" fill="#1f7a3c"/>
<path d="M468.75,113.30 L474.75,113.30 L471.75,118.60Z" fill="#1f7a3c"/>
<path d="M470.90,113.23 L476.90,113.23 L473.90,118.53Z" fill="#1f7a3c"/>
<path d="M473.05,113.92 L479.05,113.92 L476.05,119.22Z" fill="#1f7a3c"/>
<path d="M475.20,114.38 L481.20,114.38 L478.20,119.68Z" fill="#1f7a3c"/>
<path d="M477.35,114.70 L483.35,114.70 L480.35,120.00Z" fill="#1f7a3c"/>
<path d="M479.50,114.43 L485.50,114.43 L482.50,119.73Z" fill="#1f7a3c"/>
<path d="M481.65,115.02 L487.65,115.02 L484.65,120.32Z" fill="#1f7a3c"/>
<path d="M483.80,114.52 L489.80,114.52 L486.80,119.82Z" fill="#1f7a3c"/>
<path d="M485.95,114.68 L491.95,114.68 L488.95,119.98Z" fill="#1f7a3c"/>
<path d="M488.10,115.63 L494.10,115.63 L491.10,120.93Z" fill="#1f7a3c"/>
<path d="M490.25,115.72 L496.25,115.72 L493.25,121.02Z" fill="#1f7a3c"/>
<path d="M492.40,115.32 L498.40,115.32 L495.40,120.62Z" fill="#1f7a3c"/>
<path d="M494.55,115.71 L500.55,115.71 L497.55,121.01Z" fill="#1f7a3c"/>
<path d="M496.70,115.72 L502.70,115.72 L499.70,121.02Z" fill="#1f7a3c"/>
<path d="M498.85,116.45 L504.85,116.45 L501.85,121.75Z" fill="#1f7a3c"/>
<path d="M501.00,116.89 L507.00,116.89 L504.00,122.19Z" fill="#1f7a3c"/>
<path d="M503.15,116.78 L509.15,116.78 L506.15,122.08Z" fill="#1f7a3c"/>
<path d="M505.30,116.28 L511.30,116.28 L508.30,121.58Z" fill="#1f7a3c"/>
<path d="M507.45,116.95 L513.45,116.95 L510.45,122.25Z" fill="#1f7a3c"/>
<path d="M509.60,116.93 L515.60,116.93 L512.60,122.23Z" fill="#1f7a3c"/>
<path d="M511.75,116.93 L517.75,116.93 L514.75,122.23Z" fill="#1f7a3c"/>
<path d="M513.90,117.00 L519.90,117.00 L516.90,122.30Z" fill="#1f7a3c"/>
<path d="M516.05,117.08 L522.05,117.08 L519.05,122.38Z" fill="#1f7a3c"/>
<path d="M518.20,116.57 L524.20,116.57 L521.20,121.87Z" fill="#1f7a3c"/>
<path d="M520.35,117.51 L526.35,117.51 L523.35,122.81Z" fill="#1f7a3c"/>
<path d="M522.50,117.76 L528.50,117.76 L525.50,123.06Z" fill="#1f7a3c"/>
<path d="M524.65,116.76 L530.65,116.76 L527.65,122.06Z" fill="#1f7a3c"/>
<path d="M526.80,116.91 L532.80,116.91 L529.80,122.21Z" fill="#1f7a3c"/>
<path d="M528.95,116.86 L534.95,116.86 L531.95,122.16Z" fill="#1f7a3c"/>
<path d="M531.10,117.56 L537.10,117.56 L534.10,122.86Z" fill="#1f7a3c"/>
<path d="M533.25,117.04 L539.25,117.04 L536.25,122.34Z" fill="#1f7a3c"/>
<path d="M535.40,117.14 L541.40,117.14 L538.40,122.44Z" fill="#1f7a3c"/>
<path d="M537.55,118.02 L543.55,118.02 L540.55,123.32Z" fill="#1f7a3c"/>
<path d="M539.70,117.49 L545.70,117.49 L542.70,122.79Z" fill="#1f7a3c"/>
<path d="M541.85,117.46 L547.85,117.46 L544.85,122.76Z" fill="#1f7a3c"/>
<path d="M544.00,117.73 L550.00,117.73 L547.00,123.03Z" fill="#1f7a3c"/>
<path d="M546.15,117.97 L552.15,117.97 L549.15,123.27Z" fill="#1f7a3c"/>
<path d="M548.30,118.30 L554.30,118.30 L551.30,123.60Z" fill="#1f7a3c"/>
<polyline points="338.45,66.53 340.60,96.79 342.75,101.00 344.90,101.82 347.05,102.60 349.20,103.42 351.35,102.84 353.50,103.20 355.65,102.62 357.80,103.50 359.95,102.54 362.10,102.79 364.25,102.54 366.40,102.58 368.55,102.59 370.70,102.97 372.85,103.63 375.00,102.81 377.15,103.47 379.30,103.34 381.45,102.94 383.60,103.11 385.75,103.25 387.90,102.66 390.05,103.05 392.20,103.37 394.35,103.48 396.50,102.80 398.65,103.25 400.80,102.92 402.95,103.42 405.10,103.61 407.25,103.24 409.40,102.93 411.55,103.68 413.70,102.99 415.85,102.85 418.00,103.00 420.15,102.99 422.30,103.93 424.45,103.24 426.60,102.98 428.75,103.92 430.90,103.68 433.05,103.70 435.20,103.42 437.35,103.55 439.50,103.50 441.65,103.17 443.80,104.07 445.95,102.19 448.10,100.28 450.25,101.50 452.40,102.78 454.55,102.96 456.70,103.12 458.85,104.01 461.00,103.55 463.15,103.79 465.30,103.81 467.45,103.78 469.60,103.47 471.75,103.55 473.90,103.83 476.05,104.04 478.20,103.90 480.35,104.16 482.50,103.68 484.65,103.52 486.80,103.92 488.95,104.28 491.10,104.19 493.25,103.99 495.40,103.74 497.55,103.56 499.70,104.03 501.85,103.57 504.00,103.80 506.15,104.03 508.30,104.12 510.45,104.00 512.60,103.78 514.75,104.12 516.90,103.83 519.05,104.11 521.20,104.43 523.35,104.18 525.50,104.07 527.65,104.86 529.80,104.53 531.95,104.61 534.10,104.17 536.25,104.18 538.40,104.89 540.55,104.37 542.70,104.57 544.85,105.25 547.00,105.10 549.15,105.56 551.30,104.85" fill="none" stroke="#ec8a32" stroke-width="1.2"/>
<circle cx="338.45" cy="66.53" r="2.7" fill="#fdf3e6" stroke="#ec8a32" stroke-width="0.8"/>
<circle cx="340.60" cy="96.79" r="2.7" fill="#fdf3e6" stroke="#ec8a32" stroke-width="0.8"/>
<circle cx="342.75" cy="101.00" r="2.7" fill="#fdf3e6" stroke="#ec8a32" stroke-width="0.8"/>
<circle cx="344.90" cy="101.82" r="2.7" fill="#fdf3e6" stroke="#ec8a32" stroke-width="0.8"/>
<circle cx="347.05" cy="102.60" r="2.7" fill="#fdf3e6" stroke="#ec8a32" stroke-width="0.8"/>
<circle cx="349.20" cy="103.42" r="2.7" fill="#fdf3e6" stroke="#ec8a32" stroke-width="0.8"/>
<circle cx="351.35" cy="102.84" r="2.7" fill="#fdf3e6" stroke="#ec8a32" stroke-width="0.8"/>
<circle cx="353.50" cy="103.20" r="2.7" fill="#fdf3e6" stroke="#ec8a32" stroke-width="0.8"/>
<circle cx="355.65" cy="102.62" r="2.7" fill="#fdf3e6" stroke="#ec8a32" stroke-width="0.8"/>
<circle cx="357.80" cy="103.50" r="2.7" fill="#fdf3e6" stroke="#ec8a32" stroke-width="0.8"/>
<circle cx="359.95" cy="102.54" r="2.7" fill="#fdf3e6" stroke="#ec8a32" stroke-width="0.8"/>
<circle cx="362.10" cy="102.79" r="2.7" fill="#fdf3e6" stroke="#ec8a32" stroke-width="0.8"/>
<circle cx="364.25" cy="102.54" r="2.7" fill="#fdf3e6" stroke="#ec8a32" stroke-width="0.8"/>
<circle cx="366.40" cy="102.58" r="2.7" fill="#fdf3e6" stroke="#ec8a32" stroke-width="0.8"/>
<circle cx="368.55" cy="102.59" r="2.7" fill="#fdf3e6" stroke="#ec8a32" stroke-width="0.8"/>
<circle cx="370.70" cy="102.97" r="2.7" fill="#fdf3e6" stroke="#ec8a32" stroke-width="0.8"/>
<circle cx="372.85" cy="103.63" r="2.7" fill="#fdf3e6" stroke="#ec8a32" stroke-width="0.8"/>
<circle cx="375.00" cy="102.81" r="2.7" fill="#fdf3e6" stroke="#ec8a32" stroke-width="0.8"/>
<circle cx="377.15" cy="103.47" r="2.7" fill="#fdf3e6" stroke="#ec8a32" stroke-width="0.8"/>
<circle cx="379.30" cy="103.34" r="2.7" fill="#fdf3e6" stroke="#ec8a32" stroke-width="0.8"/>
<circle cx="381.45" cy="102.94" r="2.7" fill="#fdf3e6" stroke="#ec8a32" stroke-width="0.8"/>
<circle cx="383.60" cy="103.11" r="2.7" fill="#fdf3e6" stroke="#ec8a32" stroke-width="0.8"/>
<circle cx="385.75" cy="103.25" r="2.7" fill="#fdf3e6" stroke="#ec8a32" stroke-width="0.8"/>
<circle cx="387.90" cy="102.66" r="2.7" fill="#fdf3e6" stroke="#ec8a32" stroke-width="0.8"/>
<circle cx="390.05" cy="103.05" r="2.7" fill="#fdf3e6" stroke="#ec8a32" stroke-width="0.8"/>
<circle cx="392.20" cy="103.37" r="2.7" fill="#fdf3e6" stroke="#ec8a32" stroke-width="0.8"/>
<circle cx="394.35" cy="103.48" r="2.7" fill="#fdf3e6" stroke="#ec8a32" stroke-width="0.8"/>
<circle cx="396.50" cy="102.80" r="2.7" fill="#fdf3e6" stroke="#ec8a32" stroke-width="0.8"/>
<circle cx="398.65" cy="103.25" r="2.7" fill="#fdf3e6" stroke="#ec8a32" stroke-width="0.8"/>
<circle cx="400.80" cy="102.92" r="2.7" fill="#fdf3e6" stroke="#ec8a32" stroke-width="0.8"/>
<circle cx="402.95" cy="103.42" r="2.7" fill="#fdf3e6" stroke="#ec8a32" stroke-width="0.8"/>
<circle cx="405.10" cy="103.61" r="2.7" fill="#fdf3e6" stroke="#ec8a32" stroke-width="0.8"/>
<circle cx="407.25" cy="103.24" r="2.7" fill="#fdf3e6" stroke="#ec8a32" stroke-width="0.8"/>
<circle cx="409.40" cy="102.93" r="2.7" fill="#fdf3e6" stroke="#ec8a32" stroke-width="0.8"/>
<circle cx="411.55" cy="103.68" r="2.7" fill="#fdf3e6" stroke="#ec8a32" stroke-width="0.8"/>
<circle cx="413.70" cy="102.99" r="2.7" fill="#fdf3e6" stroke="#ec8a32" stroke-width="0.8"/>
<circle cx="415.85" cy="102.85" r="2.7" fill="#fdf3e6" stroke="#ec8a32" stroke-width="0.8"/>
<circle cx="418.00" cy="103.00" r="2.7" fill="#fdf3e6" stroke="#ec8a32" stroke-width="0.8"/>
<circle cx="420.15" cy="102.99" r="2.7" fill="#fdf3e6" stroke="#ec8a32" stroke-width="0.8"/>
<circle cx="422.30" cy="103.93" r="2.7" fill="#fdf3e6" stroke="#ec8a32" stroke-width="0.8"/>
<circle cx="424.45" cy="103.24" r="2.7" fill="#fdf3e6" stroke="#ec8a32" stroke-width="0.8"/>
<circle cx="426.60" cy="102.98" r="2.7" fill="#fdf3e6" stroke="#ec8a32" stroke-width="0.8"/>
<circle cx="428.75" cy="103.92" r="2.7" fill="#fdf3e6" stroke="#ec8a32" stroke-width="0.8"/>
<circle cx="430.90" cy="103.68" r="2.7" fill="#fdf3e6" stroke="#ec8a32" stroke-width="0.8"/>
<circle cx="433.05" cy="103.70" r="2.7" fill="#fdf3e6" stroke="#ec8a32" stroke-width="0.8"/>
<circle cx="435.20" cy="103.42" r="2.7" fill="#fdf3e6" stroke="#ec8a32" stroke-width="0.8"/>
<circle cx="437.35" cy="103.55" r="2.7" fill="#fdf3e6" stroke="#ec8a32" stroke-width="0.8"/>
<circle cx="439.50" cy="103.50" r="2.7" fill="#fdf3e6" stroke="#ec8a32" stroke-width="0.8"/>
<circle cx="441.65" cy="103.17" r="2.7" fill="#fdf3e6" stroke="#ec8a32" stroke-width="0.8"/>
<circle cx="443.80" cy="104.07" r="2.7" fill="#fdf3e6" stroke="#ec8a32" stroke-width="0.8"/>
<circle cx="445.95" cy="102.19" r="2.7" fill="#fdf3e6" stroke="#ec8a32" stroke-width="0.8"/>
<circle cx="448.10" cy="100.28" r="2.7" fill="#fdf3e6" stroke="#ec8a32" stroke-width="0.8"/>
<circle cx="450.25" cy="101.50" r="2.7" fill="#fdf3e6" stroke="#ec8a32" stroke-width="0.8"/>
<circle cx="452.40" cy="102.78" r="2.7" fill="#fdf3e6" stroke="#ec8a32" stroke-width="0.8"/>
<circle cx="454.55" cy="102.96" r="2.7" fill="#fdf3e6" stroke="#ec8a32" stroke-width="0.8"/>
<circle cx="456.70" cy="103.12" r="2.7" fill="#fdf3e6" stroke="#ec8a32" stroke-width="0.8"/>
<circle cx="458.85" cy="104.01" r="2.7" fill="#fdf3e6" stroke="#ec8a32" stroke-width="0.8"/>
<circle cx="461.00" cy="103.55" r="2.7" fill="#fdf3e6" stroke="#ec8a32" stroke-width="0.8"/>
<circle cx="463.15" cy="103.79" r="2.7" fill="#fdf3e6" stroke="#ec8a32" stroke-width="0.8"/>
<circle cx="465.30" cy="103.81" r="2.7" fill="#fdf3e6" stroke="#ec8a32" stroke-width="0.8"/>
<circle cx="467.45" cy="103.78" r="2.7" fill="#fdf3e6" stroke="#ec8a32" stroke-width="0.8"/>
<circle cx="469.60" cy="103.47" r="2.7" fill="#fdf3e6" stroke="#ec8a32" stroke-width="0.8"/>
<circle cx="471.75" cy="103.55" r="2.7" fill="#fdf3e6" stroke="#ec8a32" stroke-width="0.8"/>
<circle cx="473.90" cy="103.83" r="2.7" fill="#fdf3e6" stroke="#ec8a32" stroke-width="0.8"/>
<circle cx="476.05" cy="104.04" r="2.7" fill="#fdf3e6" stroke="#ec8a32" stroke-width="0.8"/>
<circle cx="478.20" cy="103.90" r="2.7" fill="#fdf3e6" stroke="#ec8a32" stroke-width="0.8"/>
<circle cx="480.35" cy="104.16" r="2.7" fill="#fdf3e6" stroke="#ec8a32" stroke-width="0.8"/>
<circle cx="482.50" cy="103.68" r="2.7" fill="#fdf3e6" stroke="#ec8a32" stroke-width="0.8"/>
<circle cx="484.65" cy="103.52" r="2.7" fill="#fdf3e6" stroke="#ec8a32" stroke-width="0.8"/>
<circle cx="486.80" cy="103.92" r="2.7" fill="#fdf3e6" stroke="#ec8a32" stroke-width="0.8"/>
<circle cx="488.95" cy="104.28" r="2.7" fill="#fdf3e6" stroke="#ec8a32" stroke-width="0.8"/>
<circle cx="491.10" cy="104.19" r="2.7" fill="#fdf3e6" stroke="#ec8a32" stroke-width="0.8"/>
<circle cx="493.25" cy="103.99" r="2.7" fill="#fdf3e6" stroke="#ec8a32" stroke-width="0.8"/>
<circle cx="495.40" cy="103.74" r="2.7" fill="#fdf3e6" stroke="#ec8a32" stroke-width="0.8"/>
<circle cx="497.55" cy="103.56" r="2.7" fill="#fdf3e6" stroke="#ec8a32" stroke-width="0.8"/>
<circle cx="499.70" cy="104.03" r="2.7" fill="#fdf3e6" stroke="#ec8a32" stroke-width="0.8"/>
<circle cx="501.85" cy="103.57" r="2.7" fill="#fdf3e6" stroke="#ec8a32" stroke-width="0.8"/>
<circle cx="504.00" cy="103.80" r="2.7" fill="#fdf3e6" stroke="#ec8a32" stroke-width="0.8"/>
<circle cx="506.15" cy="104.03" r="2.7" fill="#fdf3e6" stroke="#ec8a32" stroke-width="0.8"/>
<circle cx="508.30" cy="104.12" r="2.7" fill="#fdf3e6" stroke="#ec8a32" stroke-width="0.8"/>
<circle cx="510.45" cy="104.00" r="2.7" fill="#fdf3e6" stroke="#ec8a32" stroke-width="0.8"/>
<circle cx="512.60" cy="103.78" r="2.7" fill="#fdf3e6" stroke="#ec8a32" stroke-width="0.8"/>
<circle cx="514.75" cy="104.12" r="2.7" fill="#fdf3e6" stroke="#ec8a32" stroke-width="0.8"/>
<circle cx="516.90" cy="103.83" r="2.7" fill="#fdf3e6" stroke="#ec8a32" stroke-width="0.8"/>
<circle cx="519.05" cy="104.11" r="2.7" fill="#fdf3e6" stroke="#ec8a32" stroke-width="0.8"/>
<circle cx="521.20" cy="104.43" r="2.7" fill="#fdf3e6" stroke="#ec8a32" stroke-width="0.8"/>
<circle cx="523.35" cy="104.18" r="2.7" fill="#fdf3e6" stroke="#ec8a32" stroke-width="0.8"/>
<circle cx="525.50" cy="104.07" r="2.7" fill="#fdf3e6" stroke="#ec8a32" stroke-width="0.8"/>
<circle cx="527.65" cy="104.86" r="2.7" fill="#fdf3e6" stroke="#ec8a32" stroke-width="0.8"/>
<circle cx="529.80" cy="104.53" r="2.7" fill="#fdf3e6" stroke="#ec8a32" stroke-width="0.8"/>
<circle cx="531.95" cy="104.61" r="2.7" fill="#fdf3e6" stroke="#ec8a32" stroke-width="0.8"/>
<circle cx="534.10" cy="104.17" r="2.7" fill="#fdf3e6" stroke="#ec8a32" stroke-width="0.8"/>
<circle cx="536.25" cy="104.18" r="2.7" fill="#fdf3e6" stroke="#ec8a32" stroke-width="0.8"/>
<circle cx="538.40" cy="104.89" r="2.7" fill="#fdf3e6" stroke="#ec8a32" stroke-width="0.8"/>
<circle cx="540.55" cy="104.37" r="2.7" fill="#fdf3e6" stroke="#ec8a32" stroke-width="0.8"/>
<circle cx="542.70" cy="104.57" r="2.7" fill="#fdf3e6" stroke="#ec8a32" stroke-width="0.8"/>
<circle cx="544.85" cy="105.25" r="2.7" fill="#fdf3e6" stroke="#ec8a32" stroke-width="0.8"/>
<circle cx="547.00" cy="105.10" r="2.7" fill="#fdf3e6" stroke="#ec8a32" stroke-width="0.8"/>
<circle cx="549.15" cy="105.56" r="2.7" fill="#fdf3e6" stroke="#ec8a32" stroke-width="0.8"/>
<circle cx="551.30" cy="104.85" r="2.7" fill="#fdf3e6" stroke="#ec8a32" stroke-width="0.8"/>
<path d="M335.75,66.53 A2.7,2.7 0 0 0 341.15,66.53Z" fill="#ec8a32"/>
<path d="M337.90,96.79 A2.7,2.7 0 0 0 343.30,96.79Z" fill="#ec8a32"/>
<path d="M340.05,101.00 A2.7,2.7 0 0 0 345.45,101.00Z" fill="#ec8a32"/>
<path d="M342.20,101.82 A2.7,2.7 0 0 0 347.60,101.82Z" fill="#ec8a32"/>
<path d="M344.35,102.60 A2.7,2.7 0 0 0 349.75,102.60Z" fill="#ec8a32"/>
<path d="M346.50,103.42 A2.7,2.7 0 0 0 351.90,103.42Z" fill="#ec8a32"/>
<path d="M348.65,102.84 A2.7,2.7 0 0 0 354.05,102.84Z" fill="#ec8a32"/>
<path d="M350.80,103.20 A2.7,2.7 0 0 0 356.20,103.20Z" fill="#ec8a32"/>
<path d="M352.95,102.62 A2.7,2.7 0 0 0 358.35,102.62Z" fill="#ec8a32"/>
<path d="M355.10,103.50 A2.7,2.7 0 0 0 360.50,103.50Z" fill="#ec8a32"/>
<path d="M357.25,102.54 A2.7,2.7 0 0 0 362.65,102.54Z" fill="#ec8a32"/>
<path d="M359.40,102.79 A2.7,2.7 0 0 0 364.80,102.79Z" fill="#ec8a32"/>
<path d="M361.55,102.54 A2.7,2.7 0 0 0 366.95,102.54Z" fill="#ec8a32"/>
<path d="M363.70,102.58 A2.7,2.7 0 0 0 369.10,102.58Z" fill="#ec8a32"/>
<path d="M365.85,102.59 A2.7,2.7 0 0 0 371.25,102.59Z" fill="#ec8a32"/>
<path d="M368.00,102.97 A2.7,2.7 0 0 0 373.40,102.97Z" fill="#ec8a32"/>
<path d="M370.15,103.63 A2.7,2.7 0 0 0 375.55,103.63Z" fill="#ec8a32"/>
<path d="M372.30,102.81 A2.7,2.7 0 0 0 377.70,102.81Z" fill="#ec8a32"/>
<path d="M374.45,103.47 A2.7,2.7 0 0 0 379.85,103.47Z" fill="#ec8a32"/>
<path d="M376.60,103.34 A2.7,2.7 0 0 0 382.00,103.34Z" fill="#ec8a32"/>
<path d="M378.75,102.94 A2.7,2.7 0 0 0 384.15,102.94Z" fill="#ec8a32"/>
<path d="M380.90,103.11 A2.7,2.7 0 0 0 386.30,103.11Z" fill="#ec8a32"/>
<path d="M383.05,103.25 A2.7,2.7 0 0 0 388.45,103.25Z" fill="#ec8a32"/>
<path d="M385.20,102.66 A2.7,2.7 0 0 0 390.60,102.66Z" fill="#ec8a32"/>
<path d="M387.35,103.05 A2.7,2.7 0 0 0 392.75,103.05Z" fill="#ec8a32"/>
<path d="M389.50,103.37 A2.7,2.7 0 0 0 394.90,103.37Z" fill="#ec8a32"/>
<path d="M391.65,103.48 A2.7,2.7 0 0 0 397.05,103.48Z" fill="#ec8a32"/>
<path d="M393.80,102.80 A2.7,2.7 0 0 0 399.20,102.80Z" fill="#ec8a32"/>
<path d="M395.95,103.25 A2.7,2.7 0 0 0 401.35,103.25Z" fill="#ec8a32"/>
<path d="M398.10,102.92 A2.7,2.7 0 0 0 403.50,102.92Z" fill="#ec8a32"/>
<path d="M400.25,103.42 A2.7,2.7 0 0 0 405.65,103.42Z" fill="#ec8a32"/>
<path d="M402.40,103.61 A2.7,2.7 0 0 0 407.80,103.61Z" fill="#ec8a32"/>
<path d="M404.55,103.24 A2.7,2.7 0 0 0 409.95,103.24Z" fill="#ec8a32"/>
<path d="M406.70,102.93 A2.7,2.7 0 0 0 412.10,102.93Z" fill="#ec8a32"/>
<path d="M408.85,103.68 A2.7,2.7 0 0 0 414.25,103.68Z" fill="#ec8a32"/>
<path d="M411.00,102.99 A2.7,2.7 0 0 0 416.40,102.99Z" fill="#ec8a32"/>
<path d="M413.15,102.85 A2.7,2.7 0 0 0 418.55,102.85Z" fill="#ec8a32"/>
<path d="M415.30,103.00 A2.7,2.7 0 0 0 420.70,103.00Z" fill="#ec8a32"/>
<path d="M417.45,102.99 A2.7,2.7 0 0 0 422.85,102.99Z" fill="#ec8a32"/>
<path d="M419.60,103.93 A2.7,2.7 0 0 0 425.00,103.93Z" fill="#ec8a32"/>
<path d="M421.75,103.24 A2.7,2.7 0 0 0 427.15,103.24Z" fill="#ec8a32"/>
<path d="M423.90,102.98 A2.7,2.7 0 0 0 429.30,102.98Z" fill="#ec8a32"/>
<path d="M426.05,103.92 A2.7,2.7 0 0 0 431.45,103.92Z" fill="#ec8a32"/>
<path d="M428.20,103.68 A2.7,2.7 0 0 0 433.60,103.68Z" fill="#ec8a32"/>
<path d="M430.35,103.70 A2.7,2.7 0 0 0 435.75,103.70Z" fill="#ec8a32"/>
<path d="M432.50,103.42 A2.7,2.7 0 0 0 437.90,103.42Z" fill="#ec8a32"/>
<path d="M434.65,103.55 A2.7,2.7 0 0 0 440.05,103.55Z" fill="#ec8a32"/>
<path d="M436.80,103.50 A2.7,2.7 0 0 0 442.20,103.50Z" fill="#ec8a32"/>
<path d="M438.95,103.17 A2.7,2.7 0 0 0 444.35,103.17Z" fill="#ec8a32"/>
<path d="M441.10,104.07 A2.7,2.7 0 0 0 446.50,104.07Z" fill="#ec8a32"/>
<path d="M443.25,102.19 A2.7,2.7 0 0 0 448.65,102.19Z" fill="#ec8a32"/>
<path d="M445.40,100.28 A2.7,2.7 0 0 0 450.80,100.28Z" fill="#ec8a32"/>
<path d="M447.55,101.50 A2.7,2.7 0 0 0 452.95,101.50Z" fill="#ec8a32"/>
<path d="M449.70,102.78 A2.7,2.7 0 0 0 455.10,102.78Z" fill="#ec8a32"/>
<path d="M451.85,102.96 A2.7,2.7 0 0 0 457.25,102.96Z" fill="#ec8a32"/>
<path d="M454.00,103.12 A2.7,2.7 0 0 0 459.40,103.12Z" fill="#ec8a32"/>
<path d="M456.15,104.01 A2.7,2.7 0 0 0 461.55,104.01Z" fill="#ec8a32"/>
<path d="M458.30,103.55 A2.7,2.7 0 0 0 463.70,103.55Z" fill="#ec8a32"/>
<path d="M460.45,103.79 A2.7,2.7 0 0 0 465.85,103.79Z" fill="#ec8a32"/>
<path d="M462.60,103.81 A2.7,2.7 0 0 0 468.00,103.81Z" fill="#ec8a32"/>
<path d="M464.75,103.78 A2.7,2.7 0 0 0 470.15,103.78Z" fill="#ec8a32"/>
<path d="M466.90,103.47 A2.7,2.7 0 0 0 472.30,103.47Z" fill="#ec8a32"/>
<path d="M469.05,103.55 A2.7,2.7 0 0 0 474.45,103.55Z" fill="#ec8a32"/>
<path d="M471.20,103.83 A2.7,2.7 0 0 0 476.60,103.83Z" fill="#ec8a32"/>
<path d="M473.35,104.04 A2.7,2.7 0 0 0 478.75,104.04Z" fill="#ec8a32"/>
<path d="M475.50,103.90 A2.7,2.7 0 0 0 480.90,103.90Z" fill="#ec8a32"/>
<path d="M477.65,104.16 A2.7,2.7 0 0 0 483.05,104.16Z" fill="#ec8a32"/>
<path d="M479.80,103.68 A2.7,2.7 0 0 0 485.20,103.68Z" fill="#ec8a32"/>
<path d="M481.95,103.52 A2.7,2.7 0 0 0 487.35,103.52Z" fill="#ec8a32"/>
<path d="M484.10,103.92 A2.7,2.7 0 0 0 489.50,103.92Z" fill="#ec8a32"/>
<path d="M486.25,104.28 A2.7,2.7 0 0 0 491.65,104.28Z" fill="#ec8a32"/>
<path d="M488.40,104.19 A2.7,2.7 0 0 0 493.80,104.19Z" fill="#ec8a32"/>
<path d="M490.55,103.99 A2.7,2.7 0 0 0 495.95,103.99Z" fill="#ec8a32"/>
<path d="M492.70,103.74 A2.7,2.7 0 0 0 498.10,103.74Z" fill="#ec8a32"/>
<path d="M494.85,103.56 A2.7,2.7 0 0 0 500.25,103.56Z" fill="#ec8a32"/>
<path d="M497.00,104.03 A2.7,2.7 0 0 0 502.40,104.03Z" fill="#ec8a32"/>
<path d="M499.15,103.57 A2.7,2.7 0 0 0 504.55,103.57Z" fill="#ec8a32"/>
<path d="M501.30,103.80 A2.7,2.7 0 0 0 506.70,103.80Z" fill="#ec8a32"/>
<path d="M503.45,104.03 A2.7,2.7 0 0 0 508.85,104.03Z" fill="#ec8a32"/>
<path d="M505.60,104.12 A2.7,2.7 0 0 0 511.00,104.12Z" fill="#ec8a32"/>
<path d="M507.75,104.00 A2.7,2.7 0 0 0 513.15,104.00Z" fill="#ec8a32"/>
<path d="M509.90,103.78 A2.7,2.7 0 0 0 515.30,103.78Z" fill="#ec8a32"/>
<path d="M512.05,104.12 A2.7,2.7 0 0 0 517.45,104.12Z" fill="#ec8a32"/>
<path d="M514.20,103.83 A2.7,2.7 0 0 0 519.60,103.83Z" fill="#ec8a32"/>
<path d="M516.35,104.11 A2.7,2.7 0 0 0 521.75,104.11Z" fill="#ec8a32"/>
<path d="M518.50,104.43 A2.7,2.7 0 0 0 523.90,104.43Z" fill="#ec8a32"/>
<path d="M520.65,104.18 A2.7,2.7 0 0 0 526.05,104.18Z" fill="#ec8a32"/>
<path d="M522.80,104.07 A2.7,2.7 0 0 0 528.20,104.07Z" fill="#ec8a32"/>
<path d="M524.95,104.86 A2.7,2.7 0 0 0 530.35,104.86Z" fill="#ec8a32"/>
<path d="M527.10,104.53 A2.7,2.7 0 0 0 532.50,104.53Z" fill="#ec8a32"/>
<path d="M529.25,104.61 A2.7,2.7 0 0 0 534.65,104.61Z" fill="#ec8a32"/>
<path d="M531.40,104.17 A2.7,2.7 0 0 0 536.80,104.17Z" fill="#ec8a32"/>
<path d="M533.55,104.18 A2.7,2.7 0 0 0 538.95,104.18Z" fill="#ec8a32"/>
<path d="M535.70,104.89 A2.7,2.7 0 0 0 541.10,104.89Z" fill="#ec8a32"/>
<path d="M537.85,104.37 A2.7,2.7 0 0 0 543.25,104.37Z" fill="#ec8a32"/>
<path d="M540.00,104.57 A2.7,2.7 0 0 0 545.40,104.57Z" fill="#ec8a32"/>
<path d="M542.15,105.25 A2.7,2.7 0 0 0 547.55,105.25Z" fill="#ec8a32"/>
<path d="M544.30,105.10 A2.7,2.7 0 0 0 549.70,105.10Z" fill="#ec8a32"/>
<path d="M546.45,105.56 A2.7,2.7 0 0 0 551.85,105.56Z" fill="#ec8a32"/>
<path d="M548.60,104.85 A2.7,2.7 0 0 0 554.00,104.85Z" fill="#ec8a32"/>
<polyline points="338.45,15.91 340.60,42.76 342.75,57.66 344.90,61.12 347.05,61.66 349.20,62.78 351.35,63.95 353.50,63.26 355.65,63.00 357.80,63.27 359.95,61.82 362.10,62.31 364.25,61.71 366.40,60.20 368.55,61.18 370.70,60.73 372.85,60.36 375.00,58.59 377.15,59.51 379.30,59.44 381.45,57.80 383.60,58.95 385.75,57.49 387.90,57.65 390.05,57.20 392.20,56.84 394.35,57.36 396.50,56.81 398.65,58.05 400.80,56.57 402.95,56.88 405.10,56.36 407.25,57.31 409.40,55.99 411.55,55.50 413.70,56.94 415.85,56.31 418.00,55.72 420.15,55.09 422.30,56.00 424.45,55.97 426.60,55.69 428.75,54.87 430.90,54.47 433.05,54.97 435.20,54.87 437.35,54.66 439.50,54.59 441.65,54.32 443.80,54.78 445.95,53.90 448.10,52.93 450.25,53.84 452.40,53.11 454.55,54.07 456.70,52.99 458.85,52.76 461.00,52.79 463.15,52.96 465.30,52.91 467.45,52.51 469.60,51.93 471.75,53.18 473.90,53.16 476.05,51.86 478.20,51.35 480.35,51.87 482.50,51.80 484.65,51.09 486.80,51.85 488.95,51.50 491.10,51.41 493.25,50.50 495.40,50.79 497.55,50.73 499.70,49.69 501.85,49.02 504.00,50.03 506.15,49.10 508.30,49.44 510.45,48.45 512.60,48.75 514.75,46.48 516.90,43.73 519.05,45.79 521.20,46.66 523.35,47.98 525.50,49.50 527.65,51.43 529.80,53.77 531.95,50.39 534.10,48.98 536.25,47.74 538.40,48.97 540.55,49.05 542.70,49.58 544.85,49.22 547.00,49.54 549.15,50.32 551.30,50.75" fill="none" stroke="#6e2a82" stroke-width="1.2"/>
<circle cx="338.45" cy="15.91" r="2.7" fill="#faf2fa" stroke="#6e2a82" stroke-width="0.8"/>
<circle cx="340.60" cy="42.76" r="2.7" fill="#faf2fa" stroke="#6e2a82" stroke-width="0.8"/>
<circle cx="342.75" cy="57.66" r="2.7" fill="#faf2fa" stroke="#6e2a82" stroke-width="0.8"/>
<circle cx="344.90" cy="61.12" r="2.7" fill="#faf2fa" stroke="#6e2a82" stroke-width="0.8"/>
<circle cx="347.05" cy="61.66" r="2.7" fill="#faf2fa" stroke="#6e2a82" stroke-width="0.8"/>
<circle cx="349.20" cy="62.78" r="2.7" fill="#faf2fa" stroke="#6e2a82" stroke-width="0.8"/>
<circle cx="351.35" cy="63.95" r="2.7" fill="#faf2fa" stroke="#6e2a82" stroke-width="0.8"/>
<circle cx="353.50" cy="63.26" r="2.7" fill="#faf2fa" stroke="#6e2a82" stroke-width="0.8"/>
<circle cx="355.65" cy="63.00" r="2.7" fill="#faf2fa" stroke="#6e2a82" stroke-width="0.8"/>
<circle cx="357.80" cy="63.27" r="2.7" fill="#faf2fa" stroke="#6e2a82" stroke-width="0.8"/>
<circle cx="359.95" cy="61.82" r="2.7" fill="#faf2fa" stroke="#6e2a82" stroke-width="0.8"/>
<circle cx="362.10" cy="62.31" r="2.7" fill="#faf2fa" stroke="#6e2a82" stroke-width="0.8"/>
<circle cx="364.25" cy="61.71" r="2.7" fill="#faf2fa" stroke="#6e2a82" stroke-width="0.8"/>
<circle cx="366.40" cy="60.20" r="2.7" fill="#faf2fa" stroke="#6e2a82" stroke-width="0.8"/>
<circle cx="368.55" cy="61.18" r="2.7" fill="#faf2fa" stroke="#6e2a82" stroke-width="0.8"/>
<circle cx="370.70" cy="60.73" r="2.7" fill="#faf2fa" stroke="#6e2a82" stroke-width="0.8"/>
<circle cx="372.85" cy="60.36" r="2.7" fill="#faf2fa" stroke="#6e2a82" stroke-width="0.8"/>
<circle cx="375.00" cy="58.59" r="2.7" fill="#faf2fa" stroke="#6e2a82" stroke-width="0.8"/>
<circle cx="377.15" cy="59.51" r="2.7" fill="#faf2fa" stroke="#6e2a82" stroke-width="0.8"/>
<circle cx="379.30" cy="59.44" r="2.7" fill="#faf2fa" stroke="#6e2a82" stroke-width="0.8"/>
<circle cx="381.45" cy="57.80" r="2.7" fill="#faf2fa" stroke="#6e2a82" stroke-width="0.8"/>
<circle cx="383.60" cy="58.95" r="2.7" fill="#faf2fa" stroke="#6e2a82" stroke-width="0.8"/>
<circle cx="385.75" cy="57.49" r="2.7" fill="#faf2fa" stroke="#6e2a82" stroke-width="0.8"/>
<circle cx="387.90" cy="57.65" r="2.7" fill="#faf2fa" stroke="#6e2a82" stroke-width="0.8"/>
<circle cx="390.05" cy="57.20" r="2.7" fill="#faf2fa" stroke="#6e2a82" stroke-width="0.8"/>
<circle cx="392.20" cy="56.84" r="2.7" fill="#faf2fa" stroke="#6e2a82" stroke-width="0.8"/>
<circle cx="394.35" cy="57.36" r="2.7" fill="#faf2fa" stroke="#6e2a82" stroke-width="0.8"/>
<circle cx="396.50" cy="56.81" r="2.7" fill="#faf2fa" stroke="#6e2a82" stroke-width="0.8"/>
<circle cx="398.65" cy="58.05" r="2.7" fill="#faf2fa" stroke="#6e2a82" stroke-width="0.8"/>
<circle cx="400.80" cy="56.57" r="2.7" fill="#faf2fa" stroke="#6e2a82" stroke-width="0.8"/>
<circle cx="402.95" cy="56.88" r="2.7" fill="#faf2fa" stroke="#6e2a82" stroke-width="0.8"/>
<circle cx="405.10" cy="56.36" r="2.7" fill="#faf2fa" stroke="#6e2a82" stroke-width="0.8"/>
<circle cx="407.25" cy="57.31" r="2.7" fill="#faf2fa" stroke="#6e2a82" stroke-width="0.8"/>
<circle cx="409.40" cy="55.99" r="2.7" fill="#faf2fa" stroke="#6e2a82" stroke-width="0.8"/>
<circle cx="411.55" cy="55.50" r="2.7" fill="#faf2fa" stroke="#6e2a82" stroke-width="0.8"/>
<circle cx="413.70" cy="56.94" r="2.7" fill="#faf2fa" stroke="#6e2a82" stroke-width="0.8"/>
<circle cx="415.85" cy="56.31" r="2.7" fill="#faf2fa" stroke="#6e2a82" stroke-width="0.8"/>
<circle cx="418.00" cy="55.72" r="2.7" fill="#faf2fa" stroke="#6e2a82" stroke-width="0.8"/>
<circle cx="420.15" cy="55.09" r="2.7" fill="#faf2fa" stroke="#6e2a82" stroke-width="0.8"/>
<circle cx="422.30" cy="56.00" r="2.7" fill="#faf2fa" stroke="#6e2a82" stroke-width="0.8"/>
<circle cx="424.45" cy="55.97" r="2.7" fill="#faf2fa" stroke="#6e2a82" stroke-width="0.8"/>
<circle cx="426.60" cy="55.69" r="2.7" fill="#faf2fa" stroke="#6e2a82" stroke-width="0.8"/>
<circle cx="428.75" cy="54.87" r="2.7" fill="#faf2fa" stroke="#6e2a82" stroke-width="0.8"/>
<circle cx="430.90" cy="54.47" r="2.7" fill="#faf2fa" stroke="#6e2a82" stroke-width="0.8"/>
<circle cx="433.05" cy="54.97" r="2.7" fill="#faf2fa" stroke="#6e2a82" stroke-width="0.8"/>
<circle cx="435.20" cy="54.87" r="2.7" fill="#faf2fa" stroke="#6e2a82" stroke-width="0.8"/>
<circle cx="437.35" cy="54.66" r="2.7" fill="#faf2fa" stroke="#6e2a82" stroke-width="0.8"/>
<circle cx="439.50" cy="54.59" r="2.7" fill="#faf2fa" stroke="#6e2a82" stroke-width="0.8"/>
<circle cx="441.65" cy="54.32" r="2.7" fill="#faf2fa" stroke="#6e2a82" stroke-width="0.8"/>
<circle cx="443.80" cy="54.78" r="2.7" fill="#faf2fa" stroke="#6e2a82" stroke-width="0.8"/>
<circle cx="445.95" cy="53.90" r="2.7" fill="#faf2fa" stroke="#6e2a82" stroke-width="0.8"/>
<circle cx="448.10" cy="52.93" r="2.7" fill="#faf2fa" stroke="#6e2a82" stroke-width="0.8"/>
<circle cx="450.25" cy="53.84" r="2.7" fill="#faf2fa" stroke="#6e2a82" stroke-width="0.8"/>
<circle cx="452.40" cy="53.11" r="2.7" fill="#faf2fa" stroke="#6e2a82" stroke-width="0.8"/>
<circle cx="454.55" cy="54.07" r="2.7" fill="#faf2fa" stroke="#6e2a82" stroke-width="0.8"/>
<circle cx="456.70" cy="52.99" r="2.7" fill="#faf2fa" stroke="#6e2a82" stroke-width="0.8"/>
<circle cx="458.85" cy="52.76" r="2.7" fill="#faf2fa" stroke="#6e2a82" stroke-width="0.8"/>
<circle cx="461.00" cy="52.79" r="2.7" fill="#faf2fa" stroke="#6e2a82" stroke-width="0.8"/>
<circle cx="463.15" cy="52.96" r="2.7" fill="#faf2fa" stroke="#6e2a82" stroke-width="0.8"/>
<circle cx="465.30" cy="52.91" r="2.7" fill="#faf2fa" stroke="#6e2a82" stroke-width="0.8"/>
<circle cx="467.45" cy="52.51" r="2.7" fill="#faf2fa" stroke="#6e2a82" stroke-width="0.8"/>
<circle cx="469.60" cy="51.93" r="2.7" fill="#faf2fa" stroke="#6e2a82" stroke-width="0.8"/>
<circle cx="471.75" cy="53.18" r="2.7" fill="#faf2fa" stroke="#6e2a82" stroke-width="0.8"/>
<circle cx="473.90" cy="53.16" r="2.7" fill="#faf2fa" stroke="#6e2a82" stroke-width="0.8"/>
<circle cx="476.05" cy="51.86" r="2.7" fill="#faf2fa" stroke="#6e2a82" stroke-width="0.8"/>
<circle cx="478.20" cy="51.35" r="2.7" fill="#faf2fa" stroke="#6e2a82" stroke-width="0.8"/>
<circle cx="480.35" cy="51.87" r="2.7" fill="#faf2fa" stroke="#6e2a82" stroke-width="0.8"/>
<circle cx="482.50" cy="51.80" r="2.7" fill="#faf2fa" stroke="#6e2a82" stroke-width="0.8"/>
<circle cx="484.65" cy="51.09" r="2.7" fill="#faf2fa" stroke="#6e2a82" stroke-width="0.8"/>
<circle cx="486.80" cy="51.85" r="2.7" fill="#faf2fa" stroke="#6e2a82" stroke-width="0.8"/>
<circle cx="488.95" cy="51.50" r="2.7" fill="#faf2fa" stroke="#6e2a82" stroke-width="0.8"/>
<circle cx="491.10" cy="51.41" r="2.7" fill="#faf2fa" stroke="#6e2a82" stroke-width="0.8"/>
<circle cx="493.25" cy="50.50" r="2.7" fill="#faf2fa" stroke="#6e2a82" stroke-width="0.8"/>
<circle cx="495.40" cy="50.79" r="2.7" fill="#faf2fa" stroke="#6e2a82" stroke-width="0.8"/>
<circle cx="497.55" cy="50.73" r="2.7" fill="#faf2fa" stroke="#6e2a82" stroke-width="0.8"/>
<circle cx="499.70" cy="49.69" r="2.7" fill="#faf2fa" stroke="#6e2a82" stroke-width="0.8"/>
<circle cx="501.85" cy="49.02" r="2.7" fill="#faf2fa" stroke="#6e2a82" stroke-width="0.8"/>
<circle cx="504.00" cy="50.03" r="2.7" fill="#faf2fa" stroke="#6e2a82" stroke-width="0.8"/>
<circle cx="506.15" cy="49.10" r="2.7" fill="#faf2fa" stroke="#6e2a82" stroke-width="0.8"/>
<circle cx="508.30" cy="49.44" r="2.7" fill="#faf2fa" stroke="#6e2a82" stroke-width="0.8"/>
<circle cx="510.45" cy="48.45" r="2.7" fill="#faf2fa" stroke="#6e2a82" stroke-width="0.8"/>
<circle cx="512.60" cy="48.75" r="2.7" fill="#faf2fa" stroke="#6e2a82" stroke-width="0.8"/>
<circle cx="514.75" cy="46.48" r="2.7" fill="#faf2fa" stroke="#6e2a82" stroke-width="0.8"/>
<circle cx="516.90" cy="43.73" r="2.7" fill="#faf2fa" stroke="#6e2a82" stroke-width="0.8"/>
<circle cx="519.05" cy="45.79" r="2.7" fill="#faf2fa" stroke="#6e2a82" stroke-width="0.8"/>
<circle cx="521.20" cy="46.66" r="2.7" fill="#faf2fa" stroke="#6e2a82" stroke-width="0.8"/>
<circle cx="523.35" cy="47.98" r="2.7" fill="#faf2fa" stroke="#6e2a82" stroke-width="0.8"/>
<circle cx="525.50" cy="49.50" r="2.7" fill="#faf2fa" stroke="#6e2a82" stroke-width="0.8"/>
<circle cx="527.65" cy="51.43" r="2.7" fill="#faf2fa" stroke="#6e2a82" stroke-width="0.8"/>
<circle cx="529.80" cy="53.77" r="2.7" fill="#faf2fa" stroke="#6e2a82" stroke-width="0.8"/>
<circle cx="531.95" cy="50.39" r="2.7" fill="#faf2fa" stroke="#6e2a82" stroke-width="0.8"/>
<circle cx="534.10" cy="48.98" r="2.7" fill="#faf2fa" stroke="#6e2a82" stroke-width="0.8"/>
<circle cx="536.25" cy="47.74" r="2.7" fill="#faf2fa" stroke="#6e2a82" stroke-width="0.8"/>
<circle cx="538.40" cy="48.97" r="2.7" fill="#faf2fa" stroke="#6e2a82" stroke-width="0.8"/>
<circle cx="540.55" cy="49.05" r="2.7" fill="#faf2fa" stroke="#6e2a82" stroke-width="0.8"/>
<circle cx="542.70" cy="49.58" r="2.7" fill="#faf2fa" stroke="#6e2a82" stroke-width="0.8"/>
<circle cx="544.85" cy="49.22" r="2.7" fill="#faf2fa" stroke="#6e2a82" stroke-width="0.8"/>
<circle cx="547.00" cy="49.54" r="2.7" fill="#faf2fa" stroke="#6e2a82" stroke-width="0.8"/>
<circle cx="549.15" cy="50.32" r="2.7" fill="#faf2fa" stroke="#6e2a82" stroke-width="0.8"/>
<circle cx="551.30" cy="50.75" r="2.7" fill="#faf2fa" stroke="#6e2a82" stroke-width="0.8"/>
<path d="M335.75,15.91 A2.7,2.7 0 0 1 341.15,15.91Z" fill="#6e2a82"/>
<path d="M337.90,42.76 A2.7,2.7 0 0 1 343.30,42.76Z" fill="#6e2a82"/>
<path d="M340.05,57.66 A2.7,2.7 0 0 1 345.45,57.66Z" fill="#6e2a82"/>
<path d="M342.20,61.12 A2.7,2.7 0 0 1 347.60,61.12Z" fill="#6e2a82"/>
<path d="M344.35,61.66 A2.7,2.7 0 0 1 349.75,61.66Z" fill="#6e2a82"/>
<path d="M346.50,62.78 A2.7,2.7 0 0 1 351.90,62.78Z" fill="#6e2a82"/>
<path d="M348.65,63.95 A2.7,2.7 0 0 1 354.05,63.95Z" fill="#6e2a82"/>
<path d="M350.80,63.26 A2.7,2.7 0 0 1 356.20,63.26Z" fill="#6e2a82"/>
<path d="M352.95,63.00 A2.7,2.7 0 0 1 358.35,63.00Z" fill="#6e2a82"/>
<path d="M355.10,63.27 A2.7,2.7 0 0 1 360.50,63.27Z" fill="#6e2a82"/>
<path d="M357.25,61.82 A2.7,2.7 0 0 1 362.65,61.82Z" fill="#6e2a82"/>
<path d="M359.40,62.31 A2.7,2.7 0 0 1 364.80,62.31Z" fill="#6e2a82"/>
<path d="M361.55,61.71 A2.7,2.7 0 0 1 366.95,61.71Z" fill="#6e2a82"/>
<path d="M363.70,60.20 A2.7,2.7 0 0 1 369.10,60.20Z" fill="#6e2a82"/>
<path d="M365.85,61.18 A2.7,2.7 0 0 1 371.25,61.18Z" fill="#6e2a82"/>
<path d="M368.00,60.73 A2.7,2.7 0 0 1 373.40,60.73Z" fill="#6e2a82"/>
<path d="M370.15,60.36 A2.7,2.7 0 0 1 375.55,60.36Z" fill="#6e2a82"/>
<path d="M372.30,58.59 A2.7,2.7 0 0 1 377.70,58.59Z" fill="#6e2a82"/>
<path d="M374.45,59.51 A2.7,2.7 0 0 1 379.85,59.51Z" fill="#6e2a82"/>
<path d="M376.60,59.44 A2.7,2.7 0 0 1 382.00,59.44Z" fill="#6e2a82"/>
<path d="M378.75,57.80 A2.7,2.7 0 0 1 384.15,57.80Z" fill="#6e2a82"/>
<path d="M380.90,58.95 A2.7,2.7 0 0 1 386.30,58.95Z" fill="#6e2a82"/>
<path d="M383.05,57.49 A2.7,2.7 0 0 1 388.45,57.49Z" fill="#6e2a82"/>
<path d="M385.20,57.65 A2.7,2.7 0 0 1 390.60,57.65Z" fill="#6e2a82"/>
<path d="M387.35,57.20 A2.7,2.7 0 0 1 392.75,57.20Z" fill="#6e2a82"/>
<path d="M389.50,56.84 A2.7,2.7 0 0 1 394.90,56.84Z" fill="#6e2a82"/>
<path d="M391.65,57.36 A2.7,2.7 0 0 1 397.05,57.36Z" fill="#6e2a82"/>
<path d="M393.80,56.81 A2.7,2.7 0 0 1 399.20,56.81Z" fill="#6e2a82"/>
<path d="M395.95,58.05 A2.7,2.7 0 0 1 401.35,58.05Z" fill="#6e2a82"/>
<path d="M398.10,56.57 A2.7,2.7 0 0 1 403.50,56.57Z" fill="#6e2a82"/>
<path d="M400.25,56.88 A2.7,2.7 0 0 1 405.65,56.88Z" fill="#6e2a82"/>
<path d="M402.40,56.36 A2.7,2.7 0 0 1 407.80,56.36Z" fill="#6e2a82"/>
<path d="M404.55,57.31 A2.7,2.7 0 0 1 409.95,57.31Z" fill="#6e2a82"/>
<path d="M406.70,55.99 A2.7,2.7 0 0 1 412.10,55.99Z" fill="#6e2a82"/>
<path d="M408.85,55.50 A2.7,2.7 0 0 1 414.25,55.50Z" fill="#6e2a82"/>
<path d="M411.00,56.94 A2.7,2.7 0 0 1 416.40,56.94Z" fill="#6e2a82"/>
<path d="M413.15,56.31 A2.7,2.7 0 0 1 418.55,56.31Z" fill="#6e2a82"/>
<path d="M415.30,55.72 A2.7,2.7 0 0 1 420.70,55.72Z" fill="#6e2a82"/>
<path d="M417.45,55.09 A2.7,2.7 0 0 1 422.85,55.09Z" fill="#6e2a82"/>
<path d="M419.60,56.00 A2.7,2.7 0 0 1 425.00,56.00Z" fill="#6e2a82"/>
<path d="M421.75,55.97 A2.7,2.7 0 0 1 427.15,55.97Z" fill="#6e2a82"/>
<path d="M423.90,55.69 A2.7,2.7 0 0 1 429.30,55.69Z" fill="#6e2a82"/>
<path d="M426.05,54.87 A2.7,2.7 0 0 1 431.45,54.87Z" fill="#6e2a82"/>
<path d="M428.20,54.47 A2.7,2.7 0 0 1 433.60,54.47Z" fill="#6e2a82"/>
<path d="M430.35,54.97 A2.7,2.7 0 0 1 435.75,54.97Z" fill="#6e2a82"/>
<path d="M432.50,54.87 A2.7,2.7 0 0 1 437.90,54.87Z" fill="#6e2a82"/>
<path d="M434.65,54.66 A2.7,2.7 0 0 1 440.05,54.66Z" fill="#6e2a82"/>
<path d="M436.80,54.59 A2.7,2.7 0 0 1 442.20,54.59Z" fill="#6e2a82"/>
<path d="M438.95,54.32 A2.7,2.7 0 0 1 444.35,54.32Z" fill="#6e2a82"/>
<path d="M441.10,54.78 A2.7,2.7 0 0 1 446.50,54.78Z" fill="#6e2a82"/>
<path d="M443.25,53.90 A2.7,2.7 0 0 1 448.65,53.90Z" fill="#6e2a82"/>
<path d="M445.40,52.93 A2.7,2.7 0 0 1 450.80,52.93Z" fill="#6e2a82"/>
<path d="M447.55,53.84 A2.7,2.7 0 0 1 452.95,53.84Z" fill="#6e2a82"/>
<path d="M449.70,53.11 A2.7,2.7 0 0 1 455.10,53.11Z" fill="#6e2a82"/>
<path d="M451.85,54.07 A2.7,2.7 0 0 1 457.25,54.07Z" fill="#6e2a82"/>
<path d="M454.00,52.99 A2.7,2.7 0 0 1 459.40,52.99Z" fill="#6e2a82"/>
<path d="M456.15,52.76 A2.7,2.7 0 0 1 461.55,52.76Z" fill="#6e2a82"/>
<path d="M458.30,52.79 A2.7,2.7 0 0 1 463.70,52.79Z" fill="#6e2a82"/>
<path d="M460.45,52.96 A2.7,2.7 0 0 1 465.85,52.96Z" fill="#6e2a82"/>
<path d="M462.60,52.91 A2.7,2.7 0 0 1 468.00,52.91Z" fill="#6e2a82"/>
<path d="M464.75,52.51 A2.7,2.7 0 0 1 470.15,52.51Z" fill="#6e2a82"/>
<path d="M466.90,51.93 A2.7,2.7 0 0 1 472.30,51.93Z" fill="#6e2a82"/>
<path d="M469.05,53.18 A2.7,2.7 0 0 1 474.45,53.18Z" fill="#6e2a82"/>
<path d="M471.20,53.16 A2.7,2.7 0 0 1 476.60,53.16Z" fill="#6e2a82"/>
<path d="M473.35,51.86 A2.7,2.7 0 0 1 478.75,51.86Z" fill="#6e2a82"/>
<path d="M475.50,51.35 A2.7,2.7 0 0 1 480.90,51.35Z" fill="#6e2a82"/>
<path d="M477.65,51.87 A2.7,2.7 0 0 1 483.05,51.87Z" fill="#6e2a82"/>
<path d="M479.80,51.80 A2.7,2.7 0 0 1 485.20,51.80Z" fill="#6e2a82"/>
<path d="M481.95,51.09 A2.7,2.7 0 0 1 487.35,51.09Z" fill="#6e2a82"/>
<path d="M484.10,51.85 A2.7,2.7 0 0 1 489.50,51.85Z" fill="#6e2a82"/>
<path d="M486.25,51.50 A2.7,2.7 0 0 1 491.65,51.50Z" fill="#6e2a82"/>
<path d="M488.40,51.41 A2.7,2.7 0 0 1 493.80,51.41Z" fill="#6e2a82"/>
<path d="M490.55,50.50 A2.7,2.7 0 0 1 495.95,50.50Z" fill="#6e2a82"/>
<path d="M492.70,50.79 A2.7,2.7 0 0 1 498.10,50.79Z" fill="#6e2a82"/>
<path d="M494.85,50.73 A2.7,2.7 0 0 1 500.25,50.73Z" fill="#6e2a82"/>
<path d="M497.00,49.69 A2.7,2.7 0 0 1 502.40,49.69Z" fill="#6e2a82"/>
<path d="M499.15,49.02 A2.7,2.7 0 0 1 504.55,49.02Z" fill="#6e2a82"/>
<path d="M501.30,50.03 A2.7,2.7 0 0 1 506.70,50.03Z" fill="#6e2a82"/>
<path d="M503.45,49.10 A2.7,2.7 0 0 1 508.85,49.10Z" fill="#6e2a82"/>
<path d="M505.60,49.44 A2.7,2.7 0 0 1 511.00,49.44Z" fill="#6e2a82"/>
<path d="M507.75,48.45 A2.7,2.7 0 0 1 513.15,48.45Z" fill="#6e2a82"/>
<path d="M509.90,48.75 A2.7,2.7 0 0 1 515.30,48.75Z" fill="#6e2a82"/>
<path d="M512.05,46.48 A2.7,2.7 0 0 1 517.45,46.48Z" fill="#6e2a82"/>
<path d="M514.20,43.73 A2.7,2.7 0 0 1 519.60,43.73Z" fill="#6e2a82"/>
<path d="M516.35,45.79 A2.7,2.7 0 0 1 521.75,45.79Z" fill="#6e2a82"/>
<path d="M518.50,46.66 A2.7,2.7 0 0 1 523.90,46.66Z" fill="#6e2a82"/>
<path d="M520.65,47.98 A2.7,2.7 0 0 1 526.05,47.98Z" fill="#6e2a82"/>
<path d="M522.80,49.50 A2.7,2.7 0 0 1 528.20,49.50Z" fill="#6e2a82"/>
<path d="M524.95,51.43 A2.7,2.7 0 0 1 530.35,51.43Z" fill="#6e2a82"/>
<path d="M527.10,53.77 A2.7,2.7 0 0 1 532.50,53.77Z" fill="#6e2a82"/>
<path d="M529.25,50.39 A2.7,2.7 0 0 1 534.65,50.39Z" fill="#6e2a82"/>
<path d="M531.40,48.98 A2.7,2.7 0 0 1 536.80,48.98Z" fill="#6e2a82"/>
<path d="M533.55,47.74 A2.7,2.7 0 0 1 538.95,47.74Z" fill="#6e2a82"/>
<path d="M535.70,48.97 A2.7,2.7 0 0 1 541.10,48.97Z" fill="#6e2a82"/>
<path d="M537.85,49.05 A2.7,2.7 0 0 1 543.25,49.05Z" fill="#6e2a82"/>
<path d="M540.00,49.58 A2.7,2.7 0 0 1 545.40,49.58Z" fill="#6e2a82"/>
<path d="M542.15,49.22 A2.7,2.7 0 0 1 547.55,49.22Z" fill="#6e2a82"/>
<path d="M544.30,49.54 A2.7,2.7 0 0 1 549.70,49.54Z" fill="#6e2a82"/>
<path d="M546.45,50.32 A2.7,2.7 0 0 1 551.85,50.32Z" fill="#6e2a82"/>
<path d="M548.60,50.75 A2.7,2.7 0 0 1 554.00,50.75Z" fill="#6e2a82"/>
<rect x="336.5" y="7.5" width="215.0" height="159.8" fill="none" stroke="#505050" stroke-width="1.5"/>
<line x1="333.50" y1="167.20" x2="336.50" y2="167.20" stroke="#505050" stroke-width="1.0" />
<line x1="334.50" y1="144.45" x2="336.50" y2="144.45" stroke="#505050" stroke-width="1.0" />
<line x1="333.50" y1="121.70" x2="336.50" y2="121.70" stroke="#505050" stroke-width="1.0" />
<line x1="334.50" y1="98.95" x2="336.50" y2="98.95" stroke="#505050" stroke-width="1.0" />
<line x1="333.50" y1="76.20" x2="336.50" y2="76.20" stroke="#505050" stroke-width="1.0" />
<line x1="334.50" y1="53.45" x2="336.50" y2="53.45" stroke="#505050" stroke-width="1.0" />
<line x1="333.50" y1="30.70" x2="336.50" y2="30.70" stroke="#505050" stroke-width="1.0" />
<line x1="551.50" y1="167.50" x2="554.50" y2="167.50" stroke="#505050" stroke-width="1.0" />
<line x1="551.50" y1="152.90" x2="553.50" y2="152.90" stroke="#505050" stroke-width="1.0" />
<line x1="551.50" y1="138.30" x2="554.50" y2="138.30" stroke="#505050" stroke-width="1.0" />
<line x1="551.50" y1="123.70" x2="553.50" y2="123.70" stroke="#505050" stroke-width="1.0" />
<line x1="551.50" y1="109.10" x2="554.50" y2="109.10" stroke="#505050" stroke-width="1.0" />
<line x1="551.50" y1="94.50" x2="553.50" y2="94.50" stroke="#505050" stroke-width="1.0" />
<line x1="551.50" y1="79.90" x2="554.50" y2="79.90" stroke="#505050" stroke-width="1.0" />
<line x1="551.50" y1="65.30" x2="553.50" y2="65.30" stroke="#505050" stroke-width="1.0" />
<line x1="551.50" y1="50.70" x2="554.50" y2="50.70" stroke="#505050" stroke-width="1.0" />
<line x1="551.50" y1="36.10" x2="553.50" y2="36.10" stroke="#505050" stroke-width="1.0" />
<line x1="551.50" y1="21.50" x2="554.50" y2="21.50" stroke="#505050" stroke-width="1.0" />
<line x1="336.30" y1="167.30" x2="336.30" y2="170.30" stroke="#505050" stroke-width="1.0" />
<line x1="357.80" y1="167.30" x2="357.80" y2="169.30" stroke="#505050" stroke-width="1.0" />
<line x1="379.30" y1="167.30" x2="379.30" y2="170.30" stroke="#505050" stroke-width="1.0" />
<line x1="400.80" y1="167.30" x2="400.80" y2="169.30" stroke="#505050" stroke-width="1.0" />
<line x1="422.30" y1="167.30" x2="422.30" y2="170.30" stroke="#505050" stroke-width="1.0" />
<line x1="443.80" y1="167.30" x2="443.80" y2="169.30" stroke="#505050" stroke-width="1.0" />
<line x1="465.30" y1="167.30" x2="465.30" y2="170.30" stroke="#505050" stroke-width="1.0" />
<line x1="486.80" y1="167.30" x2="486.80" y2="169.30" stroke="#505050" stroke-width="1.0" />
<line x1="508.30" y1="167.30" x2="508.30" y2="170.30" stroke="#505050" stroke-width="1.0" />
<line x1="529.80" y1="167.30" x2="529.80" y2="169.30" stroke="#505050" stroke-width="1.0" />
<line x1="551.30" y1="167.30" x2="551.30" y2="170.30" stroke="#505050" stroke-width="1.0" />
<text x="330.50" y="172.20" font-family='"Liberation Serif", serif' font-size="14.5" text-anchor="end" fill="#1a1a1a" stroke="#1a1a1a" stroke-width="0.35" >0</text>
<text x="330.50" y="126.70" font-family='"Liberation Serif", serif' font-size="14.5" text-anchor="end" fill="#1a1a1a" stroke="#1a1a1a" stroke-width="0.35" >400</text>
<text x="330.50" y="81.20" font-family='"Liberation Serif", serif' font-size="14.5" text-anchor="end" fill="#1a1a1a" stroke="#1a1a1a" stroke-width="0.35" >800</text>
<text x="330.50" y="35.70" font-family='"Liberation Serif", serif' font-size="14.5" text-anchor="end" fill="#1a1a1a" stroke="#1a1a1a" stroke-width="0.35" >1200</text>
<text x="556.50" y="172.50" font-family='"Liberation Serif", serif' font-size="15" text-anchor="start" fill="#1a1a1a" stroke="#1a1a1a" stroke-width="0.35" >0</text>
<text x="556.50" y="143.30" font-family='"Liberation Serif", serif' font-size="15" text-anchor="start" fill="#1a1a1a" stroke="#1a1a1a" stroke-width="0.35" >20</text>
<text x="556.50" y="114.10" font-family='"Liberation Serif", serif' font-size="15" text-anchor="start" fill="#1a1a1a" stroke="#1a1a1a" stroke-width="0.35" >40</text>
<text x="556.50" y="84.90" font-family='"Liberation Serif", serif' font-size="15" text-anchor="start" fill="#1a1a1a" stroke="#1a1a1a" stroke-width="0.35" >60</text>
<text x="556.50" y="55.70" font-family='"Liberation Serif", serif' font-size="15" text-anchor="start" fill="#1a1a1a" stroke="#1a1a1a" stroke-width="0.35" >80</text>
<text x="556.50" y="26.50" font-family='"Liberation Serif", serif' font-size="15" text-anchor="start" fill="#1a1a1a" stroke="#1a1a1a" stroke-width="0.35" >100</text>
<text x="336.30" y="184.60" font-family='"Liberation Serif", serif' font-size="15.5" text-anchor="middle" fill="#1a1a1a" stroke="#1a1a1a" stroke-width="0.35" >0</text>
<text x="379.30" y="184.60" font-family='"Liberation Serif", serif' font-size="15.5" text-anchor="middle" fill="#1a1a1a" stroke="#1a1a1a" stroke-width="0.35" >20</text>
<text x="422.30" y="184.60" font-family='"Liberation Serif", serif' font-size="15.5" text-anchor="middle" fill="#1a1a1a" stroke="#1a1a1a" stroke-width="0.35" >40</text>
<text x="465.30" y="184.60" font-family='"Liberation Serif", serif' font-size="15.5" text-anchor="middle" fill="#1a1a1a" stroke="#1a1a1a" stroke-width="0.35" >60</text>
<text x="508.30" y="184.60" font-family='"Liberation Serif", serif' font-size="15.5" text-anchor="middle" fill="#1a1a1a" stroke="#1a1a1a" stroke-width="0.35" >80</text>
<text x="551.30" y="184.60" font-family='"Liberation Serif", serif' font-size="15.5" text-anchor="middle" fill="#1a1a1a" stroke="#1a1a1a" stroke-width="0.35" >100</text>
<text x="286.00" y="17.50" font-family='"Liberation Serif", serif' font-size="22" text-anchor="start" fill="#1a1a1a" stroke="#1a1a1a" stroke-width="0.35" >b)</text>
<text x="448.30" y="199.20" font-family='"Liberation Serif", serif' font-size="16" text-anchor="middle" fill="#1a1a1a" stroke="#1a1a1a" stroke-width="0.35" >Cycle number</text>
<text transform="translate(297.8,85.4) rotate(-90)" font-family='"Liberation Serif", serif' font-size="17" text-anchor="middle" fill="#1a1a1a" stroke="#1a1a1a" stroke-width="0.35">Capacity (mAh g<tspan dy="-6" font-size="10">-1</tspan><tspan dy="6">)</tspan></text>
<text transform="translate(594,98.3) rotate(-90)" font-family='"Liberation Serif", serif' font-size="16.6" text-anchor="middle" fill="#1a1a1a" stroke="#1a1a1a" stroke-width="0.35">Coulombic efficiency (%)</text>
<text x="395.60" y="43.00" font-family='"Liberation Serif", serif' font-size="13.8" text-anchor="start" fill="#6e2a82" stroke="#6e2a82" stroke-width="0.35" >Co-ZIF@GO-F-25</text>
<text x="400.00" y="92.60" font-family='"Liberation Serif", serif' font-size="13.8" text-anchor="start" fill="#ec8a32" stroke="#ec8a32" stroke-width="0.35" >Co-ZIF@rGO-P</text>
<text x="402.40" y="142.60" font-family='"Liberation Serif", serif' font-size="13.8" text-anchor="start" fill="#1f7a3c" stroke="#1f7a3c" stroke-width="0.35" >Co-ZIF nanosheet</text>
<ellipse cx="387.3" cy="90.6" rx="7" ry="52.6" fill="none" stroke="#000" stroke-width="1.9"/>
<line x1="387.50" y1="38.20" x2="355.00" y2="38.20" stroke="#000" stroke-width="1.9" />
<path d="M362.5,33.6 L355,38.2 L362.5,42.8" fill="none" stroke="#000" stroke-width="1.9"/>
<path d="M502,24.2 L502,34.2 L533.5,34.2" fill="none" stroke="#000" stroke-width="1.9"/>
<path d="M526,30 L533.8,34.2 L526,38.4" fill="none" stroke="#000" stroke-width="1.9"/>
<path d="M48.20,384.08 C51.01,382.69 58.94,380.01 65.06,375.78 C71.18,371.55 78.27,364.25 84.93,358.72 C91.58,353.19 97.81,347.81 105.00,342.59 C112.19,337.36 122.22,331.29 128.08,327.38 C133.93,323.46 134.50,322.69 140.12,319.08 C145.74,315.47 154.57,310.09 161.80,305.71 C169.02,301.33 176.25,297.64 183.47,292.80 C190.70,287.96 197.96,282.20 205.15,276.66 C212.34,271.13 220.67,263.83 226.62,259.61 C232.58,255.38 236.26,253.46 240.87,251.31 C245.49,249.16 252.08,247.47 254.32,246.70" fill="none" stroke="#000" stroke-width="2.0" stroke-linejoin="round" stroke-linecap="round"/>
<path d="M48.20,250.85 C48.43,253.00 48.60,258.92 49.60,263.76 C50.61,268.60 52.65,275.82 54.22,279.89 C55.79,283.96 57.37,284.73 59.04,288.19 C60.71,291.65 62.78,296.80 64.26,300.64 C65.73,304.48 66.70,307.78 67.87,311.24 C69.04,314.70 69.84,318.16 71.28,321.38 C72.72,324.61 74.16,327.76 76.50,330.60 C78.84,333.44 81.42,336.29 85.33,338.44 C89.24,340.59 92.52,340.74 99.98,343.51 C107.44,346.28 119.21,351.50 130.09,355.03 C140.96,358.57 153.50,361.41 165.21,364.72 C176.92,368.02 188.66,372.02 200.33,374.86 C212.00,377.70 226.46,380.16 235.25,381.77 C244.05,383.39 250.14,384.08 253.11,384.54" fill="none" stroke="#000" stroke-width="2.0" stroke-linejoin="round" stroke-linecap="round"/>
<path d="M48.20,382.69 C51.01,381.16 58.94,378.09 65.06,373.48 C71.18,368.87 78.51,360.80 84.93,355.03 C91.35,349.27 97.67,343.51 103.59,338.90 C109.51,334.29 114.36,331.75 120.45,327.38 C126.54,323.00 133.23,317.62 140.12,312.62 C147.01,307.63 154.57,302.63 161.80,297.41 C169.02,292.19 176.25,286.65 183.47,281.27 C190.70,275.90 198.59,269.75 205.15,265.14 C211.70,260.53 217.52,256.69 222.81,253.61 C228.09,250.54 234.52,247.85 236.86,246.70" fill="none" stroke="#1b8a3e" stroke-width="2.0" stroke-linejoin="round" stroke-linecap="round"/>
<path d="M48.20,251.77 C48.43,253.77 48.60,259.07 49.60,263.76 C50.61,268.44 52.65,275.82 54.22,279.89 C55.79,283.96 57.37,284.73 59.04,288.19 C60.71,291.65 62.78,296.64 64.26,300.64 C65.73,304.63 66.70,308.55 67.87,312.16 C69.04,315.77 69.84,319.08 71.28,322.30 C72.72,325.53 74.16,328.76 76.50,331.52 C78.84,334.29 81.42,336.75 85.33,338.90 C89.24,341.05 92.52,341.51 99.98,344.43 C107.44,347.35 119.21,352.73 130.09,356.42 C140.96,360.11 153.50,363.10 165.21,366.56 C176.92,370.02 187.72,374.17 200.33,377.16 C212.94,380.16 234.12,383.31 240.87,384.54" fill="none" stroke="#1b8a3e" stroke-width="2.0" stroke-linejoin="round" stroke-linecap="round"/>
<path d="M48.20,381.31 C51.01,379.39 58.94,375.32 65.06,369.79 C71.18,364.25 79.11,354.19 84.93,348.12 C90.75,342.05 94.73,337.98 99.98,333.37 C105.23,328.76 109.75,325.92 116.44,320.46 C123.13,315.00 132.56,306.86 140.12,300.64 C147.68,294.41 154.57,289.04 161.80,283.12 C169.02,277.20 176.25,270.29 183.47,265.14 C190.70,259.99 199.43,255.31 205.15,252.23 C210.87,249.16 215.68,247.62 217.79,246.70" fill="none" stroke="#2a2a86" stroke-width="2.0" stroke-linejoin="round" stroke-linecap="round"/>
<path d="M48.20,259.15 C48.84,262.45 50.81,274.28 52.01,278.97 C53.22,283.66 54.25,285.12 55.43,287.27 C56.60,289.42 57.57,289.27 59.04,291.88 C60.51,294.49 62.78,298.95 64.26,302.94 C65.73,306.94 66.70,312.16 67.87,315.85 C69.04,319.54 69.84,322.15 71.28,325.07 C72.72,327.99 74.16,330.76 76.50,333.37 C78.84,335.98 81.42,338.59 85.33,340.74 C89.24,342.90 92.52,343.13 99.98,346.28 C107.44,349.43 119.21,355.34 130.09,359.64 C140.96,363.95 153.50,368.56 165.21,372.09 C176.92,375.63 191.20,378.78 200.33,380.85 C209.46,382.93 216.72,383.92 220.00,384.54" fill="none" stroke="#2a2a86" stroke-width="2.0" stroke-linejoin="round" stroke-linecap="round"/>
<path d="M48.20,379.47 C49.87,378.01 53.22,377.01 58.23,370.71 C63.25,364.41 71.35,349.89 78.31,341.67 C85.26,333.44 93.63,327.38 99.98,321.38 C106.34,315.39 109.75,311.70 116.44,305.71 C123.13,299.71 132.56,291.65 140.12,285.42 C147.68,279.20 154.57,273.44 161.80,268.37 C169.02,263.30 178.79,258.46 183.47,255.00 C188.15,251.54 187.79,249.00 189.89,247.62 C192.00,246.24 195.08,246.85 196.12,246.70" fill="none" stroke="#e02a8a" stroke-width="2.0" stroke-linejoin="round" stroke-linecap="round"/>
<path d="M48.20,269.75 C48.84,272.06 50.81,280.12 52.01,283.58 C53.22,287.04 54.25,288.57 55.43,290.50 C56.60,292.42 57.57,292.42 59.04,295.11 C60.51,297.79 62.78,302.79 64.26,306.63 C65.73,310.47 66.70,314.70 67.87,318.15 C69.04,321.61 69.84,324.53 71.28,327.38 C72.72,330.22 74.16,332.68 76.50,335.21 C78.84,337.75 81.42,340.28 85.33,342.59 C89.24,344.89 92.52,345.43 99.98,349.04 C107.44,352.65 119.21,359.34 130.09,364.25 C140.96,369.17 154.27,375.17 165.21,378.55 C176.15,381.93 190.63,383.54 195.71,384.54" fill="none" stroke="#e02a8a" stroke-width="2.0" stroke-linejoin="round" stroke-linecap="round"/>
<path d="M48.20,377.62 C49.87,375.63 53.89,372.32 58.23,365.64 C62.58,358.95 67.60,346.58 74.29,337.52 C80.98,328.45 91.35,318.69 98.38,311.24 C105.40,303.79 110.52,298.56 116.44,292.80 C122.36,287.04 129.12,281.66 133.90,276.66 C138.68,271.67 141.36,267.06 145.14,262.83 C148.92,258.61 153.84,253.85 156.58,251.31 C159.32,248.77 159.86,248.39 161.60,247.62 C163.33,246.85 166.11,246.85 167.01,246.70" fill="none" stroke="#f59a3c" stroke-width="2.0" stroke-linejoin="round" stroke-linecap="round"/>
<path d="M48.20,275.28 C48.84,277.05 50.81,282.66 52.01,285.88 C53.22,289.11 54.25,291.72 55.43,294.64 C56.60,297.56 57.87,299.87 59.04,303.40 C60.21,306.94 60.98,311.47 62.45,315.85 C63.92,320.23 66.10,325.61 67.87,329.68 C69.64,333.75 70.24,336.67 73.09,340.28 C75.93,343.89 79.61,347.58 84.93,351.35 C90.25,355.11 97.47,359.26 105.00,362.87 C112.52,366.48 122.96,370.09 130.09,373.01 C137.21,375.93 141.73,378.47 147.75,380.39 C153.77,382.31 163.13,383.85 166.21,384.54" fill="none" stroke="#f59a3c" stroke-width="2.0" stroke-linejoin="round" stroke-linecap="round"/>
<path d="M48.20,371.63 C49.87,367.56 54.39,355.42 58.23,347.20 C62.08,338.98 67.57,328.76 71.28,322.30 C74.99,315.85 76.00,314.93 80.51,308.47 C85.03,302.02 92.45,291.42 98.38,283.58 C104.30,275.74 111.32,267.21 116.04,261.45 C120.75,255.69 124.00,251.46 126.67,249.00 C129.35,246.55 131.19,247.08 132.09,246.70" fill="none" stroke="#7c8c3a" stroke-width="2.0" stroke-linejoin="round" stroke-linecap="round"/>
<path d="M48.20,288.19 C48.84,289.80 50.81,294.49 52.01,297.87 C53.22,301.25 54.25,304.63 55.43,308.47 C56.60,312.32 57.87,317.08 59.04,320.92 C60.21,324.76 60.98,327.91 62.45,331.52 C63.92,335.14 65.90,339.44 67.87,342.59 C69.84,345.74 71.45,347.58 74.29,350.43 C77.13,353.27 80.91,356.80 84.93,359.64 C88.94,362.49 93.76,364.95 98.38,367.48 C102.99,370.02 108.28,372.63 112.62,374.86 C116.97,377.09 121.25,379.31 124.47,380.85 C127.68,382.39 130.65,383.54 131.89,384.08" fill="none" stroke="#7c8c3a" stroke-width="2.0" stroke-linejoin="round" stroke-linecap="round"/>
<rect x="46.5" y="224.5" width="222.0" height="165.3" fill="none" stroke="#505050" stroke-width="1.5"/>
<line x1="43.50" y1="385.00" x2="46.50" y2="385.00" stroke="#505050" stroke-width="1.0" />
<line x1="44.50" y1="361.95" x2="46.50" y2="361.95" stroke="#505050" stroke-width="1.0" />
<line x1="43.50" y1="338.90" x2="46.50" y2="338.90" stroke="#505050" stroke-width="1.0" />
<line x1="44.50" y1="315.85" x2="46.50" y2="315.85" stroke="#505050" stroke-width="1.0" />
<line x1="43.50" y1="292.80" x2="46.50" y2="292.80" stroke="#505050" stroke-width="1.0" />
<line x1="44.50" y1="269.75" x2="46.50" y2="269.75" stroke="#505050" stroke-width="1.0" />
<line x1="43.50" y1="246.70" x2="46.50" y2="246.70" stroke="#505050" stroke-width="1.0" />
<line x1="48.20" y1="389.80" x2="48.20" y2="392.80" stroke="#505050" stroke-width="1.0" />
<line x1="78.31" y1="389.80" x2="78.31" y2="391.80" stroke="#505050" stroke-width="1.0" />
<line x1="108.41" y1="389.80" x2="108.41" y2="392.80" stroke="#505050" stroke-width="1.0" />
<line x1="138.51" y1="389.80" x2="138.51" y2="391.80" stroke="#505050" stroke-width="1.0" />
<line x1="168.62" y1="389.80" x2="168.62" y2="392.80" stroke="#505050" stroke-width="1.0" />
<line x1="198.73" y1="389.80" x2="198.73" y2="391.80" stroke="#505050" stroke-width="1.0" />
<line x1="228.83" y1="389.80" x2="228.83" y2="392.80" stroke="#505050" stroke-width="1.0" />
<line x1="258.94" y1="389.80" x2="258.94" y2="391.80" stroke="#505050" stroke-width="1.0" />
<text x="41.00" y="389.60" font-family='"Liberation Sans", sans-serif' font-size="13" text-anchor="end" fill="#1a1a1a" stroke="#1a1a1a" stroke-width="0.35" >0</text>
<text x="41.00" y="343.50" font-family='"Liberation Sans", sans-serif' font-size="13" text-anchor="end" fill="#1a1a1a" stroke="#1a1a1a" stroke-width="0.35" >1</text>
<text x="41.00" y="297.40" font-family='"Liberation Sans", sans-serif' font-size="13" text-anchor="end" fill="#1a1a1a" stroke="#1a1a1a" stroke-width="0.35" >2</text>
<text x="41.00" y="251.30" font-family='"Liberation Sans", sans-serif' font-size="13" text-anchor="end" fill="#1a1a1a" stroke="#1a1a1a" stroke-width="0.35" >3</text>
<text x="48.20" y="406.00" font-family='"Liberation Sans", sans-serif' font-size="13" text-anchor="middle" fill="#1a1a1a" stroke="#1a1a1a" stroke-width="0.35" >0</text>
<text x="108.41" y="406.00" font-family='"Liberation Sans", sans-serif' font-size="13" text-anchor="middle" fill="#1a1a1a" stroke="#1a1a1a" stroke-width="0.35" >300</text>
<text x="168.62" y="406.00" font-family='"Liberation Sans", sans-serif' font-size="13" text-anchor="middle" fill="#1a1a1a" stroke="#1a1a1a" stroke-width="0.35" >600</text>
<text x="228.83" y="406.00" font-family='"Liberation Sans", sans-serif' font-size="13" text-anchor="middle" fill="#1a1a1a" stroke="#1a1a1a" stroke-width="0.35" >900</text>
<text x="3.50" y="225.30" font-family='"Liberation Serif", serif' font-size="22" text-anchor="start" fill="#1a1a1a" stroke="#1a1a1a" stroke-width="0.35" >c)</text>
<text x="151.50" y="420.50" font-family='"Liberation Serif", serif' font-size="17.6" text-anchor="middle" fill="#1a1a1a" stroke="#1a1a1a" stroke-width="0.35" >Capacity (mAh g<tspan dy="-6" font-size="10">-1</tspan><tspan dy="6">)</tspan></text>
<text transform="translate(25.8,310) rotate(-90)" font-family='"Liberation Serif", serif' font-size="18" text-anchor="middle" fill="#1a1a1a" stroke="#1a1a1a" stroke-width="0.35">Voltage (V) vs. Li<tspan dy="-6" font-size="10">+</tspan><tspan dy="6">/Li</tspan></text>
<text x="112.50" y="241.30" font-family='"Liberation Serif", serif' font-size="14" text-anchor="start" fill="#1a1a1a" stroke="#1a1a1a" stroke-width="0.35" letter-spacing="0.5">5 A g<tspan dy="-6" font-size="9">-1</tspan></text>
<text x="216.90" y="241.30" font-family='"Liberation Serif", serif' font-size="14" text-anchor="start" fill="#1a1a1a" stroke="#1a1a1a" stroke-width="0.35" letter-spacing="0.25">0.1 A g<tspan dy="-6" font-size="9">-1</tspan></text>
<line x1="212.60" y1="238.50" x2="154.00" y2="238.50" stroke="#000" stroke-width="1.5" />
<path d="M159.5,234.8 L153,238.5 L159.5,242.2" fill="none" stroke="#000" stroke-width="1.5"/>
<path d="M340.07,318.27 L346.47,318.27 L343.27,323.67Z" fill="#1f7a3c"/>
<path d="M343.33,318.91 L349.73,318.91 L346.53,324.31Z" fill="#1f7a3c"/>
<path d="M346.60,319.37 L353.00,319.37 L349.80,324.77Z" fill="#1f7a3c"/>
<path d="M349.87,318.83 L356.27,318.83 L353.07,324.23Z" fill="#1f7a3c"/>
<path d="M353.13,319.67 L359.53,319.67 L356.33,325.07Z" fill="#1f7a3c"/>
<path d="M356.40,319.50 L362.80,319.50 L359.60,324.90Z" fill="#1f7a3c"/>
<path d="M359.67,319.83 L366.07,319.83 L362.87,325.23Z" fill="#1f7a3c"/>
<path d="M362.94,319.95 L369.34,319.95 L366.14,325.35Z" fill="#1f7a3c"/>
<path d="M366.20,320.12 L372.60,320.12 L369.40,325.52Z" fill="#1f7a3c"/>
<path d="M369.47,320.19 L375.87,320.19 L372.67,325.59Z" fill="#1f7a3c"/>
<path d="M372.74,323.71 L379.14,323.71 L375.94,329.11Z" fill="#1f7a3c"/>
<path d="M376.00,324.43 L382.40,324.43 L379.20,329.83Z" fill="#1f7a3c"/>
<path d="M379.27,323.94 L385.67,323.94 L382.47,329.34Z" fill="#1f7a3c"/>
<path d="M382.54,324.02 L388.94,324.02 L385.74,329.42Z" fill="#1f7a3c"/>
<path d="M385.81,324.98 L392.20,324.98 L389.00,330.38Z" fill="#1f7a3c"/>
<path d="M389.07,324.15 L395.47,324.15 L392.27,329.55Z" fill="#1f7a3c"/>
<path d="M392.34,324.36 L398.74,324.36 L395.54,329.76Z" fill="#1f7a3c"/>
<path d="M395.61,325.08 L402.01,325.08 L398.81,330.48Z" fill="#1f7a3c"/>
<path d="M398.87,324.69 L405.27,324.69 L402.07,330.09Z" fill="#1f7a3c"/>
<path d="M402.14,324.85 L408.54,324.85 L405.34,330.25Z" fill="#1f7a3c"/>
<path d="M405.41,329.95 L411.81,329.95 L408.61,335.35Z" fill="#1f7a3c"/>
<path d="M408.67,332.89 L415.07,332.89 L411.87,338.29Z" fill="#1f7a3c"/>
<path d="M411.94,332.40 L418.34,332.40 L415.14,337.80Z" fill="#1f7a3c"/>
<path d="M415.21,333.16 L421.61,333.16 L418.41,338.56Z" fill="#1f7a3c"/>
<path d="M418.48,332.47 L424.88,332.47 L421.68,337.87Z" fill="#1f7a3c"/>
<path d="M421.74,332.69 L428.14,332.69 L424.94,338.09Z" fill="#1f7a3c"/>
<path d="M425.01,333.40 L431.41,333.40 L428.21,338.80Z" fill="#1f7a3c"/>
<path d="M428.28,332.49 L434.68,332.49 L431.48,337.89Z" fill="#1f7a3c"/>
<path d="M431.54,332.81 L437.94,332.81 L434.74,338.21Z" fill="#1f7a3c"/>
<path d="M434.81,332.40 L441.21,332.40 L438.01,337.80Z" fill="#1f7a3c"/>
<path d="M438.08,339.58 L444.48,339.58 L441.28,344.98Z" fill="#1f7a3c"/>
<path d="M441.34,343.95 L447.74,343.95 L444.54,349.35Z" fill="#1f7a3c"/>
<path d="M444.61,344.44 L451.01,344.44 L447.81,349.84Z" fill="#1f7a3c"/>
<path d="M447.88,343.86 L454.28,343.86 L451.08,349.26Z" fill="#1f7a3c"/>
<path d="M451.15,343.70 L457.55,343.70 L454.35,349.10Z" fill="#1f7a3c"/>
<path d="M454.41,343.79 L460.81,343.79 L457.61,349.19Z" fill="#1f7a3c"/>
<path d="M457.68,344.33 L464.08,344.33 L460.88,349.73Z" fill="#1f7a3c"/>
<path d="M460.95,343.92 L467.35,343.92 L464.15,349.32Z" fill="#1f7a3c"/>
<path d="M464.21,344.27 L470.61,344.27 L467.41,349.67Z" fill="#1f7a3c"/>
<path d="M467.48,344.74 L473.88,344.74 L470.68,350.14Z" fill="#1f7a3c"/>
<path d="M470.75,352.24 L477.15,352.24 L473.95,357.64Z" fill="#1f7a3c"/>
<path d="M474.01,358.60 L480.41,358.60 L477.21,364.00Z" fill="#1f7a3c"/>
<path d="M477.28,358.45 L483.68,358.45 L480.48,363.85Z" fill="#1f7a3c"/>
<path d="M480.55,358.50 L486.95,358.50 L483.75,363.90Z" fill="#1f7a3c"/>
<path d="M483.81,358.07 L490.21,358.07 L487.01,363.47Z" fill="#1f7a3c"/>
<path d="M487.08,357.82 L493.48,357.82 L490.28,363.22Z" fill="#1f7a3c"/>
<path d="M490.35,358.02 L496.75,358.02 L493.55,363.42Z" fill="#1f7a3c"/>
<path d="M493.62,358.17 L500.02,358.17 L496.82,363.57Z" fill="#1f7a3c"/>
<path d="M496.88,357.88 L503.28,357.88 L500.08,363.28Z" fill="#1f7a3c"/>
<path d="M500.15,358.32 L506.55,358.32 L503.35,363.72Z" fill="#1f7a3c"/>
<path d="M503.42,363.39 L509.82,363.39 L506.62,368.79Z" fill="#1f7a3c"/>
<path d="M506.68,363.78 L513.08,363.78 L509.88,369.18Z" fill="#1f7a3c"/>
<path d="M509.95,364.23 L516.35,364.23 L513.15,369.63Z" fill="#1f7a3c"/>
<path d="M513.22,364.50 L519.62,364.50 L516.42,369.90Z" fill="#1f7a3c"/>
<path d="M516.48,363.60 L522.88,363.60 L519.68,369.00Z" fill="#1f7a3c"/>
<path d="M519.75,363.83 L526.15,363.83 L522.95,369.23Z" fill="#1f7a3c"/>
<path d="M523.02,364.27 L529.42,364.27 L526.22,369.67Z" fill="#1f7a3c"/>
<path d="M526.29,364.27 L532.69,364.27 L529.49,369.67Z" fill="#1f7a3c"/>
<path d="M529.55,364.07 L535.95,364.07 L532.75,369.47Z" fill="#1f7a3c"/>
<path d="M532.82,363.98 L539.22,363.98 L536.02,369.38Z" fill="#1f7a3c"/>
<path d="M536.09,356.78 L542.49,356.78 L539.29,362.18Z" fill="#1f7a3c"/>
<path d="M539.35,351.53 L545.75,351.53 L542.55,356.93Z" fill="#1f7a3c"/>
<path d="M542.62,351.27 L549.02,351.27 L545.82,356.67Z" fill="#1f7a3c"/>
<path d="M545.89,350.55 L552.29,350.55 L549.09,355.95Z" fill="#1f7a3c"/>
<path d="M549.15,351.36 L555.56,351.36 L552.36,356.76Z" fill="#1f7a3c"/>
<path d="M552.42,350.96 L558.82,350.96 L555.62,356.36Z" fill="#1f7a3c"/>
<path d="M555.69,351.29 L562.09,351.29 L558.89,356.69Z" fill="#1f7a3c"/>
<path d="M558.96,351.27 L565.36,351.27 L562.16,356.67Z" fill="#1f7a3c"/>
<path d="M562.22,351.32 L568.62,351.32 L565.42,356.72Z" fill="#1f7a3c"/>
<path d="M565.49,351.03 L571.89,351.03 L568.69,356.43Z" fill="#1f7a3c"/>
<circle cx="343.27" cy="306.14" r="2.5" fill="#fdf3e6" stroke="#ec8a32" stroke-width="0.8"/>
<circle cx="346.53" cy="305.93" r="2.5" fill="#fdf3e6" stroke="#ec8a32" stroke-width="0.8"/>
<circle cx="349.80" cy="306.86" r="2.5" fill="#fdf3e6" stroke="#ec8a32" stroke-width="0.8"/>
<circle cx="353.07" cy="306.22" r="2.5" fill="#fdf3e6" stroke="#ec8a32" stroke-width="0.8"/>
<circle cx="356.33" cy="306.58" r="2.5" fill="#fdf3e6" stroke="#ec8a32" stroke-width="0.8"/>
<circle cx="359.60" cy="307.22" r="2.5" fill="#fdf3e6" stroke="#ec8a32" stroke-width="0.8"/>
<circle cx="362.87" cy="305.85" r="2.5" fill="#fdf3e6" stroke="#ec8a32" stroke-width="0.8"/>
<circle cx="366.14" cy="306.51" r="2.5" fill="#fdf3e6" stroke="#ec8a32" stroke-width="0.8"/>
<circle cx="369.40" cy="306.31" r="2.5" fill="#fdf3e6" stroke="#ec8a32" stroke-width="0.8"/>
<circle cx="372.67" cy="307.45" r="2.5" fill="#fdf3e6" stroke="#ec8a32" stroke-width="0.8"/>
<circle cx="375.94" cy="309.83" r="2.5" fill="#fdf3e6" stroke="#ec8a32" stroke-width="0.8"/>
<circle cx="379.20" cy="313.15" r="2.5" fill="#fdf3e6" stroke="#ec8a32" stroke-width="0.8"/>
<circle cx="382.47" cy="313.32" r="2.5" fill="#fdf3e6" stroke="#ec8a32" stroke-width="0.8"/>
<circle cx="385.74" cy="313.46" r="2.5" fill="#fdf3e6" stroke="#ec8a32" stroke-width="0.8"/>
<circle cx="389.00" cy="312.65" r="2.5" fill="#fdf3e6" stroke="#ec8a32" stroke-width="0.8"/>
<circle cx="392.27" cy="312.60" r="2.5" fill="#fdf3e6" stroke="#ec8a32" stroke-width="0.8"/>
<circle cx="395.54" cy="312.86" r="2.5" fill="#fdf3e6" stroke="#ec8a32" stroke-width="0.8"/>
<circle cx="398.81" cy="312.62" r="2.5" fill="#fdf3e6" stroke="#ec8a32" stroke-width="0.8"/>
<circle cx="402.07" cy="313.09" r="2.5" fill="#fdf3e6" stroke="#ec8a32" stroke-width="0.8"/>
<circle cx="405.34" cy="313.21" r="2.5" fill="#fdf3e6" stroke="#ec8a32" stroke-width="0.8"/>
<circle cx="408.61" cy="317.08" r="2.5" fill="#fdf3e6" stroke="#ec8a32" stroke-width="0.8"/>
<circle cx="411.87" cy="319.49" r="2.5" fill="#fdf3e6" stroke="#ec8a32" stroke-width="0.8"/>
<circle cx="415.14" cy="320.53" r="2.5" fill="#fdf3e6" stroke="#ec8a32" stroke-width="0.8"/>
<circle cx="418.41" cy="319.95" r="2.5" fill="#fdf3e6" stroke="#ec8a32" stroke-width="0.8"/>
<circle cx="421.68" cy="320.27" r="2.5" fill="#fdf3e6" stroke="#ec8a32" stroke-width="0.8"/>
<circle cx="424.94" cy="319.62" r="2.5" fill="#fdf3e6" stroke="#ec8a32" stroke-width="0.8"/>
<circle cx="428.21" cy="320.14" r="2.5" fill="#fdf3e6" stroke="#ec8a32" stroke-width="0.8"/>
<circle cx="431.48" cy="320.16" r="2.5" fill="#fdf3e6" stroke="#ec8a32" stroke-width="0.8"/>
<circle cx="434.74" cy="320.08" r="2.5" fill="#fdf3e6" stroke="#ec8a32" stroke-width="0.8"/>
<circle cx="438.01" cy="319.90" r="2.5" fill="#fdf3e6" stroke="#ec8a32" stroke-width="0.8"/>
<circle cx="441.28" cy="325.90" r="2.5" fill="#fdf3e6" stroke="#ec8a32" stroke-width="0.8"/>
<circle cx="444.54" cy="331.07" r="2.5" fill="#fdf3e6" stroke="#ec8a32" stroke-width="0.8"/>
<circle cx="447.81" cy="330.45" r="2.5" fill="#fdf3e6" stroke="#ec8a32" stroke-width="0.8"/>
<circle cx="451.08" cy="331.37" r="2.5" fill="#fdf3e6" stroke="#ec8a32" stroke-width="0.8"/>
<circle cx="454.35" cy="331.18" r="2.5" fill="#fdf3e6" stroke="#ec8a32" stroke-width="0.8"/>
<circle cx="457.61" cy="331.39" r="2.5" fill="#fdf3e6" stroke="#ec8a32" stroke-width="0.8"/>
<circle cx="460.88" cy="331.37" r="2.5" fill="#fdf3e6" stroke="#ec8a32" stroke-width="0.8"/>
<circle cx="464.15" cy="330.54" r="2.5" fill="#fdf3e6" stroke="#ec8a32" stroke-width="0.8"/>
<circle cx="467.41" cy="330.60" r="2.5" fill="#fdf3e6" stroke="#ec8a32" stroke-width="0.8"/>
<circle cx="470.68" cy="331.28" r="2.5" fill="#fdf3e6" stroke="#ec8a32" stroke-width="0.8"/>
<circle cx="473.95" cy="336.43" r="2.5" fill="#fdf3e6" stroke="#ec8a32" stroke-width="0.8"/>
<circle cx="477.21" cy="342.05" r="2.5" fill="#fdf3e6" stroke="#ec8a32" stroke-width="0.8"/>
<circle cx="480.48" cy="341.64" r="2.5" fill="#fdf3e6" stroke="#ec8a32" stroke-width="0.8"/>
<circle cx="483.75" cy="341.55" r="2.5" fill="#fdf3e6" stroke="#ec8a32" stroke-width="0.8"/>
<circle cx="487.01" cy="341.63" r="2.5" fill="#fdf3e6" stroke="#ec8a32" stroke-width="0.8"/>
<circle cx="490.28" cy="341.83" r="2.5" fill="#fdf3e6" stroke="#ec8a32" stroke-width="0.8"/>
<circle cx="493.55" cy="342.39" r="2.5" fill="#fdf3e6" stroke="#ec8a32" stroke-width="0.8"/>
<circle cx="496.82" cy="342.07" r="2.5" fill="#fdf3e6" stroke="#ec8a32" stroke-width="0.8"/>
<circle cx="500.08" cy="342.33" r="2.5" fill="#fdf3e6" stroke="#ec8a32" stroke-width="0.8"/>
<circle cx="503.35" cy="341.91" r="2.5" fill="#fdf3e6" stroke="#ec8a32" stroke-width="0.8"/>
<circle cx="506.62" cy="350.66" r="2.5" fill="#fdf3e6" stroke="#ec8a32" stroke-width="0.8"/>
<circle cx="509.88" cy="356.27" r="2.5" fill="#fdf3e6" stroke="#ec8a32" stroke-width="0.8"/>
<circle cx="513.15" cy="356.21" r="2.5" fill="#fdf3e6" stroke="#ec8a32" stroke-width="0.8"/>
<circle cx="516.42" cy="355.54" r="2.5" fill="#fdf3e6" stroke="#ec8a32" stroke-width="0.8"/>
<circle cx="519.68" cy="356.49" r="2.5" fill="#fdf3e6" stroke="#ec8a32" stroke-width="0.8"/>
<circle cx="522.95" cy="355.51" r="2.5" fill="#fdf3e6" stroke="#ec8a32" stroke-width="0.8"/>
<circle cx="526.22" cy="355.40" r="2.5" fill="#fdf3e6" stroke="#ec8a32" stroke-width="0.8"/>
<circle cx="529.49" cy="355.33" r="2.5" fill="#fdf3e6" stroke="#ec8a32" stroke-width="0.8"/>
<circle cx="532.75" cy="356.04" r="2.5" fill="#fdf3e6" stroke="#ec8a32" stroke-width="0.8"/>
<circle cx="536.02" cy="355.83" r="2.5" fill="#fdf3e6" stroke="#ec8a32" stroke-width="0.8"/>
<circle cx="539.29" cy="343.22" r="2.5" fill="#fdf3e6" stroke="#ec8a32" stroke-width="0.8"/>
<circle cx="542.55" cy="337.88" r="2.5" fill="#fdf3e6" stroke="#ec8a32" stroke-width="0.8"/>
<circle cx="545.82" cy="337.45" r="2.5" fill="#fdf3e6" stroke="#ec8a32" stroke-width="0.8"/>
<circle cx="549.09" cy="337.82" r="2.5" fill="#fdf3e6" stroke="#ec8a32" stroke-width="0.8"/>
<circle cx="552.36" cy="338.30" r="2.5" fill="#fdf3e6" stroke="#ec8a32" stroke-width="0.8"/>
<circle cx="555.62" cy="337.60" r="2.5" fill="#fdf3e6" stroke="#ec8a32" stroke-width="0.8"/>
<circle cx="558.89" cy="338.07" r="2.5" fill="#fdf3e6" stroke="#ec8a32" stroke-width="0.8"/>
<circle cx="562.16" cy="337.92" r="2.5" fill="#fdf3e6" stroke="#ec8a32" stroke-width="0.8"/>
<circle cx="565.42" cy="337.77" r="2.5" fill="#fdf3e6" stroke="#ec8a32" stroke-width="0.8"/>
<circle cx="568.69" cy="338.68" r="2.5" fill="#fdf3e6" stroke="#ec8a32" stroke-width="0.8"/>
<path d="M340.77,306.14 A2.5,2.5 0 0 0 345.77,306.14Z" fill="#ec8a32"/>
<path d="M344.03,305.93 A2.5,2.5 0 0 0 349.03,305.93Z" fill="#ec8a32"/>
<path d="M347.30,306.86 A2.5,2.5 0 0 0 352.30,306.86Z" fill="#ec8a32"/>
<path d="M350.57,306.22 A2.5,2.5 0 0 0 355.57,306.22Z" fill="#ec8a32"/>
<path d="M353.83,306.58 A2.5,2.5 0 0 0 358.83,306.58Z" fill="#ec8a32"/>
<path d="M357.10,307.22 A2.5,2.5 0 0 0 362.10,307.22Z" fill="#ec8a32"/>
<path d="M360.37,305.85 A2.5,2.5 0 0 0 365.37,305.85Z" fill="#ec8a32"/>
<path d="M363.64,306.51 A2.5,2.5 0 0 0 368.64,306.51Z" fill="#ec8a32"/>
<path d="M366.90,306.31 A2.5,2.5 0 0 0 371.90,306.31Z" fill="#ec8a32"/>
<path d="M370.17,307.45 A2.5,2.5 0 0 0 375.17,307.45Z" fill="#ec8a32"/>
<path d="M373.44,309.83 A2.5,2.5 0 0 0 378.44,309.83Z" fill="#ec8a32"/>
<path d="M376.70,313.15 A2.5,2.5 0 0 0 381.70,313.15Z" fill="#ec8a32"/>
<path d="M379.97,313.32 A2.5,2.5 0 0 0 384.97,313.32Z" fill="#ec8a32"/>
<path d="M383.24,313.46 A2.5,2.5 0 0 0 388.24,313.46Z" fill="#ec8a32"/>
<path d="M386.50,312.65 A2.5,2.5 0 0 0 391.50,312.65Z" fill="#ec8a32"/>
<path d="M389.77,312.60 A2.5,2.5 0 0 0 394.77,312.60Z" fill="#ec8a32"/>
<path d="M393.04,312.86 A2.5,2.5 0 0 0 398.04,312.86Z" fill="#ec8a32"/>
<path d="M396.31,312.62 A2.5,2.5 0 0 0 401.31,312.62Z" fill="#ec8a32"/>
<path d="M399.57,313.09 A2.5,2.5 0 0 0 404.57,313.09Z" fill="#ec8a32"/>
<path d="M402.84,313.21 A2.5,2.5 0 0 0 407.84,313.21Z" fill="#ec8a32"/>
<path d="M406.11,317.08 A2.5,2.5 0 0 0 411.11,317.08Z" fill="#ec8a32"/>
<path d="M409.37,319.49 A2.5,2.5 0 0 0 414.37,319.49Z" fill="#ec8a32"/>
<path d="M412.64,320.53 A2.5,2.5 0 0 0 417.64,320.53Z" fill="#ec8a32"/>
<path d="M415.91,319.95 A2.5,2.5 0 0 0 420.91,319.95Z" fill="#ec8a32"/>
<path d="M419.18,320.27 A2.5,2.5 0 0 0 424.18,320.27Z" fill="#ec8a32"/>
<path d="M422.44,319.62 A2.5,2.5 0 0 0 427.44,319.62Z" fill="#ec8a32"/>
<path d="M425.71,320.14 A2.5,2.5 0 0 0 430.71,320.14Z" fill="#ec8a32"/>
<path d="M428.98,320.16 A2.5,2.5 0 0 0 433.98,320.16Z" fill="#ec8a32"/>
<path d="M432.24,320.08 A2.5,2.5 0 0 0 437.24,320.08Z" fill="#ec8a32"/>
<path d="M435.51,319.90 A2.5,2.5 0 0 0 440.51,319.90Z" fill="#ec8a32"/>
<path d="M438.78,325.90 A2.5,2.5 0 0 0 443.78,325.90Z" fill="#ec8a32"/>
<path d="M442.04,331.07 A2.5,2.5 0 0 0 447.04,331.07Z" fill="#ec8a32"/>
<path d="M445.31,330.45 A2.5,2.5 0 0 0 450.31,330.45Z" fill="#ec8a32"/>
<path d="M448.58,331.37 A2.5,2.5 0 0 0 453.58,331.37Z" fill="#ec8a32"/>
<path d="M451.85,331.18 A2.5,2.5 0 0 0 456.85,331.18Z" fill="#ec8a32"/>
<path d="M455.11,331.39 A2.5,2.5 0 0 0 460.11,331.39Z" fill="#ec8a32"/>
<path d="M458.38,331.37 A2.5,2.5 0 0 0 463.38,331.37Z" fill="#ec8a32"/>
<path d="M461.65,330.54 A2.5,2.5 0 0 0 466.65,330.54Z" fill="#ec8a32"/>
<path d="M464.91,330.60 A2.5,2.5 0 0 0 469.91,330.60Z" fill="#ec8a32"/>
<path d="M468.18,331.28 A2.5,2.5 0 0 0 473.18,331.28Z" fill="#ec8a32"/>
<path d="M471.45,336.43 A2.5,2.5 0 0 0 476.45,336.43Z" fill="#ec8a32"/>
<path d="M474.71,342.05 A2.5,2.5 0 0 0 479.71,342.05Z" fill="#ec8a32"/>
<path d="M477.98,341.64 A2.5,2.5 0 0 0 482.98,341.64Z" fill="#ec8a32"/>
<path d="M481.25,341.55 A2.5,2.5 0 0 0 486.25,341.55Z" fill="#ec8a32"/>
<path d="M484.51,341.63 A2.5,2.5 0 0 0 489.51,341.63Z" fill="#ec8a32"/>
<path d="M487.78,341.83 A2.5,2.5 0 0 0 492.78,341.83Z" fill="#ec8a32"/>
<path d="M491.05,342.39 A2.5,2.5 0 0 0 496.05,342.39Z" fill="#ec8a32"/>
<path d="M494.32,342.07 A2.5,2.5 0 0 0 499.32,342.07Z" fill="#ec8a32"/>
<path d="M497.58,342.33 A2.5,2.5 0 0 0 502.58,342.33Z" fill="#ec8a32"/>
<path d="M500.85,341.91 A2.5,2.5 0 0 0 505.85,341.91Z" fill="#ec8a32"/>
<path d="M504.12,350.66 A2.5,2.5 0 0 0 509.12,350.66Z" fill="#ec8a32"/>
<path d="M507.38,356.27 A2.5,2.5 0 0 0 512.38,356.27Z" fill="#ec8a32"/>
<path d="M510.65,356.21 A2.5,2.5 0 0 0 515.65,356.21Z" fill="#ec8a32"/>
<path d="M513.92,355.54 A2.5,2.5 0 0 0 518.92,355.54Z" fill="#ec8a32"/>
<path d="M517.18,356.49 A2.5,2.5 0 0 0 522.18,356.49Z" fill="#ec8a32"/>
<path d="M520.45,355.51 A2.5,2.5 0 0 0 525.45,355.51Z" fill="#ec8a32"/>
<path d="M523.72,355.40 A2.5,2.5 0 0 0 528.72,355.40Z" fill="#ec8a32"/>
<path d="M526.99,355.33 A2.5,2.5 0 0 0 531.99,355.33Z" fill="#ec8a32"/>
<path d="M530.25,356.04 A2.5,2.5 0 0 0 535.25,356.04Z" fill="#ec8a32"/>
<path d="M533.52,355.83 A2.5,2.5 0 0 0 538.52,355.83Z" fill="#ec8a32"/>
<path d="M536.79,343.22 A2.5,2.5 0 0 0 541.79,343.22Z" fill="#ec8a32"/>
<path d="M540.05,337.88 A2.5,2.5 0 0 0 545.05,337.88Z" fill="#ec8a32"/>
<path d="M543.32,337.45 A2.5,2.5 0 0 0 548.32,337.45Z" fill="#ec8a32"/>
<path d="M546.59,337.82 A2.5,2.5 0 0 0 551.59,337.82Z" fill="#ec8a32"/>
<path d="M549.86,338.30 A2.5,2.5 0 0 0 554.86,338.30Z" fill="#ec8a32"/>
<path d="M553.12,337.60 A2.5,2.5 0 0 0 558.12,337.60Z" fill="#ec8a32"/>
<path d="M556.39,338.07 A2.5,2.5 0 0 0 561.39,338.07Z" fill="#ec8a32"/>
<path d="M559.66,337.92 A2.5,2.5 0 0 0 564.66,337.92Z" fill="#ec8a32"/>
<path d="M562.92,337.77 A2.5,2.5 0 0 0 567.92,337.77Z" fill="#ec8a32"/>
<path d="M566.19,338.68 A2.5,2.5 0 0 0 571.19,338.68Z" fill="#ec8a32"/>
<rect x="341.07" y="245.72" width="4.4" height="4.4" fill="#fff" stroke="#6e2a82" stroke-width="0.8"/>
<rect x="344.33" y="242.53" width="4.4" height="4.4" fill="#fff" stroke="#6e2a82" stroke-width="0.8"/>
<rect x="347.60" y="241.47" width="4.4" height="4.4" fill="#fff" stroke="#6e2a82" stroke-width="0.8"/>
<rect x="350.87" y="242.31" width="4.4" height="4.4" fill="#fff" stroke="#6e2a82" stroke-width="0.8"/>
<rect x="354.13" y="240.52" width="4.4" height="4.4" fill="#fff" stroke="#6e2a82" stroke-width="0.8"/>
<rect x="357.40" y="241.64" width="4.4" height="4.4" fill="#fff" stroke="#6e2a82" stroke-width="0.8"/>
<rect x="360.67" y="242.94" width="4.4" height="4.4" fill="#fff" stroke="#6e2a82" stroke-width="0.8"/>
<rect x="363.94" y="243.44" width="4.4" height="4.4" fill="#fff" stroke="#6e2a82" stroke-width="0.8"/>
<rect x="367.20" y="243.33" width="4.4" height="4.4" fill="#fff" stroke="#6e2a82" stroke-width="0.8"/>
<rect x="370.47" y="244.64" width="4.4" height="4.4" fill="#fff" stroke="#6e2a82" stroke-width="0.8"/>
<rect x="373.74" y="248.56" width="4.4" height="4.4" fill="#fff" stroke="#6e2a82" stroke-width="0.8"/>
<rect x="377.00" y="253.22" width="4.4" height="4.4" fill="#fff" stroke="#6e2a82" stroke-width="0.8"/>
<rect x="380.27" y="253.99" width="4.4" height="4.4" fill="#fff" stroke="#6e2a82" stroke-width="0.8"/>
<rect x="383.54" y="254.05" width="4.4" height="4.4" fill="#fff" stroke="#6e2a82" stroke-width="0.8"/>
<rect x="386.81" y="253.97" width="4.4" height="4.4" fill="#fff" stroke="#6e2a82" stroke-width="0.8"/>
<rect x="390.07" y="254.06" width="4.4" height="4.4" fill="#fff" stroke="#6e2a82" stroke-width="0.8"/>
<rect x="393.34" y="253.40" width="4.4" height="4.4" fill="#fff" stroke="#6e2a82" stroke-width="0.8"/>
<rect x="396.61" y="253.21" width="4.4" height="4.4" fill="#fff" stroke="#6e2a82" stroke-width="0.8"/>
<rect x="399.87" y="253.16" width="4.4" height="4.4" fill="#fff" stroke="#6e2a82" stroke-width="0.8"/>
<rect x="403.14" y="253.97" width="4.4" height="4.4" fill="#fff" stroke="#6e2a82" stroke-width="0.8"/>
<rect x="406.41" y="257.22" width="4.4" height="4.4" fill="#fff" stroke="#6e2a82" stroke-width="0.8"/>
<rect x="409.67" y="265.08" width="4.4" height="4.4" fill="#fff" stroke="#6e2a82" stroke-width="0.8"/>
<rect x="412.94" y="264.94" width="4.4" height="4.4" fill="#fff" stroke="#6e2a82" stroke-width="0.8"/>
<rect x="416.21" y="264.56" width="4.4" height="4.4" fill="#fff" stroke="#6e2a82" stroke-width="0.8"/>
<rect x="419.48" y="265.37" width="4.4" height="4.4" fill="#fff" stroke="#6e2a82" stroke-width="0.8"/>
<rect x="422.74" y="265.36" width="4.4" height="4.4" fill="#fff" stroke="#6e2a82" stroke-width="0.8"/>
<rect x="426.01" y="264.43" width="4.4" height="4.4" fill="#fff" stroke="#6e2a82" stroke-width="0.8"/>
<rect x="429.28" y="265.11" width="4.4" height="4.4" fill="#fff" stroke="#6e2a82" stroke-width="0.8"/>
<rect x="432.54" y="265.03" width="4.4" height="4.4" fill="#fff" stroke="#6e2a82" stroke-width="0.8"/>
<rect x="435.81" y="264.75" width="4.4" height="4.4" fill="#fff" stroke="#6e2a82" stroke-width="0.8"/>
<rect x="439.08" y="272.04" width="4.4" height="4.4" fill="#fff" stroke="#6e2a82" stroke-width="0.8"/>
<rect x="442.34" y="280.30" width="4.4" height="4.4" fill="#fff" stroke="#6e2a82" stroke-width="0.8"/>
<rect x="445.61" y="279.88" width="4.4" height="4.4" fill="#fff" stroke="#6e2a82" stroke-width="0.8"/>
<rect x="448.88" y="279.76" width="4.4" height="4.4" fill="#fff" stroke="#6e2a82" stroke-width="0.8"/>
<rect x="452.15" y="279.69" width="4.4" height="4.4" fill="#fff" stroke="#6e2a82" stroke-width="0.8"/>
<rect x="455.41" y="280.04" width="4.4" height="4.4" fill="#fff" stroke="#6e2a82" stroke-width="0.8"/>
<rect x="458.68" y="279.57" width="4.4" height="4.4" fill="#fff" stroke="#6e2a82" stroke-width="0.8"/>
<rect x="461.95" y="279.10" width="4.4" height="4.4" fill="#fff" stroke="#6e2a82" stroke-width="0.8"/>
<rect x="465.21" y="279.81" width="4.4" height="4.4" fill="#fff" stroke="#6e2a82" stroke-width="0.8"/>
<rect x="468.48" y="279.62" width="4.4" height="4.4" fill="#fff" stroke="#6e2a82" stroke-width="0.8"/>
<rect x="471.75" y="287.57" width="4.4" height="4.4" fill="#fff" stroke="#6e2a82" stroke-width="0.8"/>
<rect x="475.01" y="298.18" width="4.4" height="4.4" fill="#fff" stroke="#6e2a82" stroke-width="0.8"/>
<rect x="478.28" y="297.69" width="4.4" height="4.4" fill="#fff" stroke="#6e2a82" stroke-width="0.8"/>
<rect x="481.55" y="298.38" width="4.4" height="4.4" fill="#fff" stroke="#6e2a82" stroke-width="0.8"/>
<rect x="484.81" y="297.41" width="4.4" height="4.4" fill="#fff" stroke="#6e2a82" stroke-width="0.8"/>
<rect x="488.08" y="297.38" width="4.4" height="4.4" fill="#fff" stroke="#6e2a82" stroke-width="0.8"/>
<rect x="491.35" y="298.40" width="4.4" height="4.4" fill="#fff" stroke="#6e2a82" stroke-width="0.8"/>
<rect x="494.62" y="297.34" width="4.4" height="4.4" fill="#fff" stroke="#6e2a82" stroke-width="0.8"/>
<rect x="497.88" y="298.06" width="4.4" height="4.4" fill="#fff" stroke="#6e2a82" stroke-width="0.8"/>
<rect x="501.15" y="297.56" width="4.4" height="4.4" fill="#fff" stroke="#6e2a82" stroke-width="0.8"/>
<rect x="504.42" y="306.62" width="4.4" height="4.4" fill="#fff" stroke="#6e2a82" stroke-width="0.8"/>
<rect x="507.68" y="320.40" width="4.4" height="4.4" fill="#fff" stroke="#6e2a82" stroke-width="0.8"/>
<rect x="510.95" y="319.92" width="4.4" height="4.4" fill="#fff" stroke="#6e2a82" stroke-width="0.8"/>
<rect x="514.22" y="319.95" width="4.4" height="4.4" fill="#fff" stroke="#6e2a82" stroke-width="0.8"/>
<rect x="517.48" y="319.76" width="4.4" height="4.4" fill="#fff" stroke="#6e2a82" stroke-width="0.8"/>
<rect x="520.75" y="320.44" width="4.4" height="4.4" fill="#fff" stroke="#6e2a82" stroke-width="0.8"/>
<rect x="524.02" y="319.82" width="4.4" height="4.4" fill="#fff" stroke="#6e2a82" stroke-width="0.8"/>
<rect x="527.29" y="319.56" width="4.4" height="4.4" fill="#fff" stroke="#6e2a82" stroke-width="0.8"/>
<rect x="530.55" y="319.92" width="4.4" height="4.4" fill="#fff" stroke="#6e2a82" stroke-width="0.8"/>
<rect x="533.82" y="320.10" width="4.4" height="4.4" fill="#fff" stroke="#6e2a82" stroke-width="0.8"/>
<rect x="537.09" y="297.63" width="4.4" height="4.4" fill="#fff" stroke="#6e2a82" stroke-width="0.8"/>
<rect x="540.35" y="281.95" width="4.4" height="4.4" fill="#fff" stroke="#6e2a82" stroke-width="0.8"/>
<rect x="543.62" y="282.12" width="4.4" height="4.4" fill="#fff" stroke="#6e2a82" stroke-width="0.8"/>
<rect x="546.89" y="281.66" width="4.4" height="4.4" fill="#fff" stroke="#6e2a82" stroke-width="0.8"/>
<rect x="550.15" y="281.71" width="4.4" height="4.4" fill="#fff" stroke="#6e2a82" stroke-width="0.8"/>
<rect x="553.42" y="281.85" width="4.4" height="4.4" fill="#fff" stroke="#6e2a82" stroke-width="0.8"/>
<rect x="556.69" y="282.34" width="4.4" height="4.4" fill="#fff" stroke="#6e2a82" stroke-width="0.8"/>
<rect x="559.96" y="281.75" width="4.4" height="4.4" fill="#fff" stroke="#6e2a82" stroke-width="0.8"/>
<rect x="563.22" y="281.77" width="4.4" height="4.4" fill="#fff" stroke="#6e2a82" stroke-width="0.8"/>
<rect x="566.49" y="282.34" width="4.4" height="4.4" fill="#fff" stroke="#6e2a82" stroke-width="0.8"/>
<rect x="340.67" y="245.32" width="5.2" height="2.6" fill="#6e2a82"/>
<rect x="343.93" y="242.13" width="5.2" height="2.6" fill="#6e2a82"/>
<rect x="347.20" y="241.07" width="5.2" height="2.6" fill="#6e2a82"/>
<rect x="350.47" y="241.91" width="5.2" height="2.6" fill="#6e2a82"/>
<rect x="353.73" y="240.12" width="5.2" height="2.6" fill="#6e2a82"/>
<rect x="357.00" y="241.24" width="5.2" height="2.6" fill="#6e2a82"/>
<rect x="360.27" y="242.54" width="5.2" height="2.6" fill="#6e2a82"/>
<rect x="363.54" y="243.04" width="5.2" height="2.6" fill="#6e2a82"/>
<rect x="366.80" y="242.93" width="5.2" height="2.6" fill="#6e2a82"/>
<rect x="370.07" y="244.24" width="5.2" height="2.6" fill="#6e2a82"/>
<rect x="373.34" y="248.16" width="5.2" height="2.6" fill="#6e2a82"/>
<rect x="376.60" y="252.82" width="5.2" height="2.6" fill="#6e2a82"/>
<rect x="379.87" y="253.59" width="5.2" height="2.6" fill="#6e2a82"/>
<rect x="383.14" y="253.65" width="5.2" height="2.6" fill="#6e2a82"/>
<rect x="386.40" y="253.57" width="5.2" height="2.6" fill="#6e2a82"/>
<rect x="389.67" y="253.66" width="5.2" height="2.6" fill="#6e2a82"/>
<rect x="392.94" y="253.00" width="5.2" height="2.6" fill="#6e2a82"/>
<rect x="396.21" y="252.81" width="5.2" height="2.6" fill="#6e2a82"/>
<rect x="399.47" y="252.76" width="5.2" height="2.6" fill="#6e2a82"/>
<rect x="402.74" y="253.57" width="5.2" height="2.6" fill="#6e2a82"/>
<rect x="406.01" y="256.82" width="5.2" height="2.6" fill="#6e2a82"/>
<rect x="409.27" y="264.68" width="5.2" height="2.6" fill="#6e2a82"/>
<rect x="412.54" y="264.54" width="5.2" height="2.6" fill="#6e2a82"/>
<rect x="415.81" y="264.16" width="5.2" height="2.6" fill="#6e2a82"/>
<rect x="419.07" y="264.97" width="5.2" height="2.6" fill="#6e2a82"/>
<rect x="422.34" y="264.96" width="5.2" height="2.6" fill="#6e2a82"/>
<rect x="425.61" y="264.03" width="5.2" height="2.6" fill="#6e2a82"/>
<rect x="428.88" y="264.71" width="5.2" height="2.6" fill="#6e2a82"/>
<rect x="432.14" y="264.63" width="5.2" height="2.6" fill="#6e2a82"/>
<rect x="435.41" y="264.35" width="5.2" height="2.6" fill="#6e2a82"/>
<rect x="438.68" y="271.64" width="5.2" height="2.6" fill="#6e2a82"/>
<rect x="441.94" y="279.90" width="5.2" height="2.6" fill="#6e2a82"/>
<rect x="445.21" y="279.48" width="5.2" height="2.6" fill="#6e2a82"/>
<rect x="448.48" y="279.36" width="5.2" height="2.6" fill="#6e2a82"/>
<rect x="451.75" y="279.29" width="5.2" height="2.6" fill="#6e2a82"/>
<rect x="455.01" y="279.64" width="5.2" height="2.6" fill="#6e2a82"/>
<rect x="458.28" y="279.17" width="5.2" height="2.6" fill="#6e2a82"/>
<rect x="461.55" y="278.70" width="5.2" height="2.6" fill="#6e2a82"/>
<rect x="464.81" y="279.41" width="5.2" height="2.6" fill="#6e2a82"/>
<rect x="468.08" y="279.22" width="5.2" height="2.6" fill="#6e2a82"/>
<rect x="471.35" y="287.17" width="5.2" height="2.6" fill="#6e2a82"/>
<rect x="474.61" y="297.78" width="5.2" height="2.6" fill="#6e2a82"/>
<rect x="477.88" y="297.29" width="5.2" height="2.6" fill="#6e2a82"/>
<rect x="481.15" y="297.98" width="5.2" height="2.6" fill="#6e2a82"/>
<rect x="484.41" y="297.01" width="5.2" height="2.6" fill="#6e2a82"/>
<rect x="487.68" y="296.98" width="5.2" height="2.6" fill="#6e2a82"/>
<rect x="490.95" y="298.00" width="5.2" height="2.6" fill="#6e2a82"/>
<rect x="494.22" y="296.94" width="5.2" height="2.6" fill="#6e2a82"/>
<rect x="497.48" y="297.66" width="5.2" height="2.6" fill="#6e2a82"/>
<rect x="500.75" y="297.16" width="5.2" height="2.6" fill="#6e2a82"/>
<rect x="504.02" y="306.22" width="5.2" height="2.6" fill="#6e2a82"/>
<rect x="507.28" y="320.00" width="5.2" height="2.6" fill="#6e2a82"/>
<rect x="510.55" y="319.52" width="5.2" height="2.6" fill="#6e2a82"/>
<rect x="513.82" y="319.55" width="5.2" height="2.6" fill="#6e2a82"/>
<rect x="517.08" y="319.36" width="5.2" height="2.6" fill="#6e2a82"/>
<rect x="520.35" y="320.04" width="5.2" height="2.6" fill="#6e2a82"/>
<rect x="523.62" y="319.42" width="5.2" height="2.6" fill="#6e2a82"/>
<rect x="526.89" y="319.16" width="5.2" height="2.6" fill="#6e2a82"/>
<rect x="530.15" y="319.52" width="5.2" height="2.6" fill="#6e2a82"/>
<rect x="533.42" y="319.70" width="5.2" height="2.6" fill="#6e2a82"/>
<rect x="536.69" y="297.23" width="5.2" height="2.6" fill="#6e2a82"/>
<rect x="539.95" y="281.55" width="5.2" height="2.6" fill="#6e2a82"/>
<rect x="543.22" y="281.72" width="5.2" height="2.6" fill="#6e2a82"/>
<rect x="546.49" y="281.26" width="5.2" height="2.6" fill="#6e2a82"/>
<rect x="549.75" y="281.31" width="5.2" height="2.6" fill="#6e2a82"/>
<rect x="553.02" y="281.45" width="5.2" height="2.6" fill="#6e2a82"/>
<rect x="556.29" y="281.94" width="5.2" height="2.6" fill="#6e2a82"/>
<rect x="559.56" y="281.35" width="5.2" height="2.6" fill="#6e2a82"/>
<rect x="562.82" y="281.37" width="5.2" height="2.6" fill="#6e2a82"/>
<rect x="566.09" y="281.94" width="5.2" height="2.6" fill="#6e2a82"/>
<rect x="340" y="223.8" width="236.29999999999995" height="164.7" fill="none" stroke="#505050" stroke-width="1.5"/>
<line x1="337.00" y1="375.50" x2="340.00" y2="375.50" stroke="#505050" stroke-width="1.0" />
<line x1="338.00" y1="356.65" x2="340.00" y2="356.65" stroke="#505050" stroke-width="1.0" />
<line x1="337.00" y1="337.80" x2="340.00" y2="337.80" stroke="#505050" stroke-width="1.0" />
<line x1="338.00" y1="318.95" x2="340.00" y2="318.95" stroke="#505050" stroke-width="1.0" />
<line x1="337.00" y1="300.10" x2="340.00" y2="300.10" stroke="#505050" stroke-width="1.0" />
<line x1="338.00" y1="281.25" x2="340.00" y2="281.25" stroke="#505050" stroke-width="1.0" />
<line x1="337.00" y1="262.40" x2="340.00" y2="262.40" stroke="#505050" stroke-width="1.0" />
<line x1="338.00" y1="243.55" x2="340.00" y2="243.55" stroke="#505050" stroke-width="1.0" />
<line x1="337.00" y1="224.70" x2="340.00" y2="224.70" stroke="#505050" stroke-width="1.0" />
<line x1="340.00" y1="388.50" x2="340.00" y2="391.50" stroke="#505050" stroke-width="1.0" />
<line x1="372.67" y1="388.50" x2="372.67" y2="390.50" stroke="#505050" stroke-width="1.0" />
<line x1="405.34" y1="388.50" x2="405.34" y2="391.50" stroke="#505050" stroke-width="1.0" />
<line x1="438.01" y1="388.50" x2="438.01" y2="390.50" stroke="#505050" stroke-width="1.0" />
<line x1="470.68" y1="388.50" x2="470.68" y2="391.50" stroke="#505050" stroke-width="1.0" />
<line x1="503.35" y1="388.50" x2="503.35" y2="390.50" stroke="#505050" stroke-width="1.0" />
<line x1="536.02" y1="388.50" x2="536.02" y2="391.50" stroke="#505050" stroke-width="1.0" />
<line x1="568.69" y1="388.50" x2="568.69" y2="390.50" stroke="#505050" stroke-width="1.0" />
<text x="334.00" y="378.90" font-family='"Liberation Sans", sans-serif' font-size="12.5" text-anchor="end" fill="#1a1a1a" stroke="#1a1a1a" stroke-width="0.35" >0</text>
<text x="334.00" y="341.20" font-family='"Liberation Sans", sans-serif' font-size="12.5" text-anchor="end" fill="#1a1a1a" stroke="#1a1a1a" stroke-width="0.35" >300</text>
<text x="334.00" y="303.50" font-family='"Liberation Sans", sans-serif' font-size="12.5" text-anchor="end" fill="#1a1a1a" stroke="#1a1a1a" stroke-width="0.35" >600</text>
<text x="334.00" y="265.80" font-family='"Liberation Sans", sans-serif' font-size="12.5" text-anchor="end" fill="#1a1a1a" stroke="#1a1a1a" stroke-width="0.35" >900</text>
<text x="334.00" y="228.10" font-family='"Liberation Sans", sans-serif' font-size="12.5" text-anchor="end" fill="#1a1a1a" stroke="#1a1a1a" stroke-width="0.35" >1200</text>
<text x="340.00" y="404.50" font-family='"Liberation Sans", sans-serif' font-size="12.5" text-anchor="middle" fill="#1a1a1a" stroke="#1a1a1a" stroke-width="0.35" >0</text>
<text x="405.34" y="404.50" font-family='"Liberation Sans", sans-serif' font-size="12.5" text-anchor="middle" fill="#1a1a1a" stroke="#1a1a1a" stroke-width="0.35" >20</text>
<text x="470.68" y="404.50" font-family='"Liberation Sans", sans-serif' font-size="12.5" text-anchor="middle" fill="#1a1a1a" stroke="#1a1a1a" stroke-width="0.35" >40</text>
<text x="536.02" y="404.50" font-family='"Liberation Sans", sans-serif' font-size="12.5" text-anchor="middle" fill="#1a1a1a" stroke="#1a1a1a" stroke-width="0.35" >60</text>
<text x="281.00" y="226.70" font-family='"Liberation Serif", serif' font-size="22" text-anchor="start" fill="#1a1a1a" stroke="#1a1a1a" stroke-width="0.35" >d)</text>
<text x="462.00" y="421.00" font-family='"Liberation Serif", serif' font-size="17.4" text-anchor="middle" fill="#1a1a1a" stroke="#1a1a1a" stroke-width="0.35" >Cycle number</text>
<text transform="translate(304,306) rotate(-90)" font-family='"Liberation Serif", serif' font-size="17.8" text-anchor="middle" fill="#1a1a1a" stroke="#1a1a1a" stroke-width="0.35">Capacity (mAh g<tspan dy="-6" font-size="10">-1</tspan><tspan dy="6">)</tspan></text>
<path d="M448.50,231.00 L454.90,231.00 L451.70,236.80Z" fill="#1f7a3c"/>
<circle cx="451.7" cy="248.5" r="2.8" fill="#fdf0e0" stroke="#ec8a32" stroke-width="0.9"/>
<path d="M448.90,248.5 A2.8,2.8 0 0 0 454.50,248.5Z" fill="#ec8a32"/>
<rect x="448.90" y="262.70" width="5.6" height="5.6" fill="#fff" stroke="#6e2a82" stroke-width="0.9"/>
<rect x="448.90" y="262.70" width="5.6" height="2.8" fill="#6e2a82"/>
<text x="469.20" y="236.80" font-family='"Liberation Serif", serif' font-size="12.8" text-anchor="start" fill="#1a1a1a" stroke="#1a1a1a" stroke-width="0.35" >Co-ZIF nanosheet</text>
<text x="469.20" y="253.20" font-family='"Liberation Serif", serif' font-size="12.8" text-anchor="start" fill="#1a1a1a" stroke="#1a1a1a" stroke-width="0.35" >Co-ZIF@rGO-P</text>
<text x="469.20" y="269.50" font-family='"Liberation Serif", serif' font-size="12.8" text-anchor="start" fill="#1a1a1a" stroke="#1a1a1a" stroke-width="0.35" >Co-ZIF@rGO-F-25</text>
<text x="340.80" y="337.90" font-family='"Liberation Serif", serif' font-size="9.0" text-anchor="start" fill="#333" stroke="#333" stroke-width="0.35" word-spacing="1.2">0.1 A g<tspan dy="-4" font-size="6.5">-1</tspan></text>
<text x="372.60" y="342.50" font-family='"Liberation Serif", serif' font-size="9.0" text-anchor="start" fill="#333" stroke="#333" stroke-width="0.35" word-spacing="1.2">0.2 A g<tspan dy="-4" font-size="6.5">-1</tspan></text>
<text x="404.50" y="351.90" font-family='"Liberation Serif", serif' font-size="9.0" text-anchor="start" fill="#333" stroke="#333" stroke-width="0.35" word-spacing="1.2">0.5 A g<tspan dy="-4" font-size="6.5">-1</tspan></text>
<text x="436.00" y="362.40" font-family='"Liberation Serif", serif' font-size="9.0" text-anchor="start" fill="#333" stroke="#333" stroke-width="0.35" word-spacing="1.2">1.0 A g<tspan dy="-4" font-size="6.5">-1</tspan></text>
<text x="469.90" y="375.30" font-family='"Liberation Serif", serif' font-size="9.0" text-anchor="start" fill="#333" stroke="#333" stroke-width="0.35" word-spacing="1.2">2.0 A g<tspan dy="-4" font-size="6.5">-1</tspan></text>
<text x="506.10" y="380.70" font-family='"Liberation Serif", serif' font-size="9.0" text-anchor="start" fill="#333" stroke="#333" stroke-width="0.35" word-spacing="1.2">5.0 A g<tspan dy="-4" font-size="6.5">-1</tspan></text>
<text x="541.20" y="367.90" font-family='"Liberation Serif", serif' font-size="9.0" text-anchor="start" fill="#333" stroke="#333" stroke-width="0.35" word-spacing="1.2">1.0 A g<tspan dy="-4" font-size="6.5">-1</tspan></text>
</svg>
</body></html>
